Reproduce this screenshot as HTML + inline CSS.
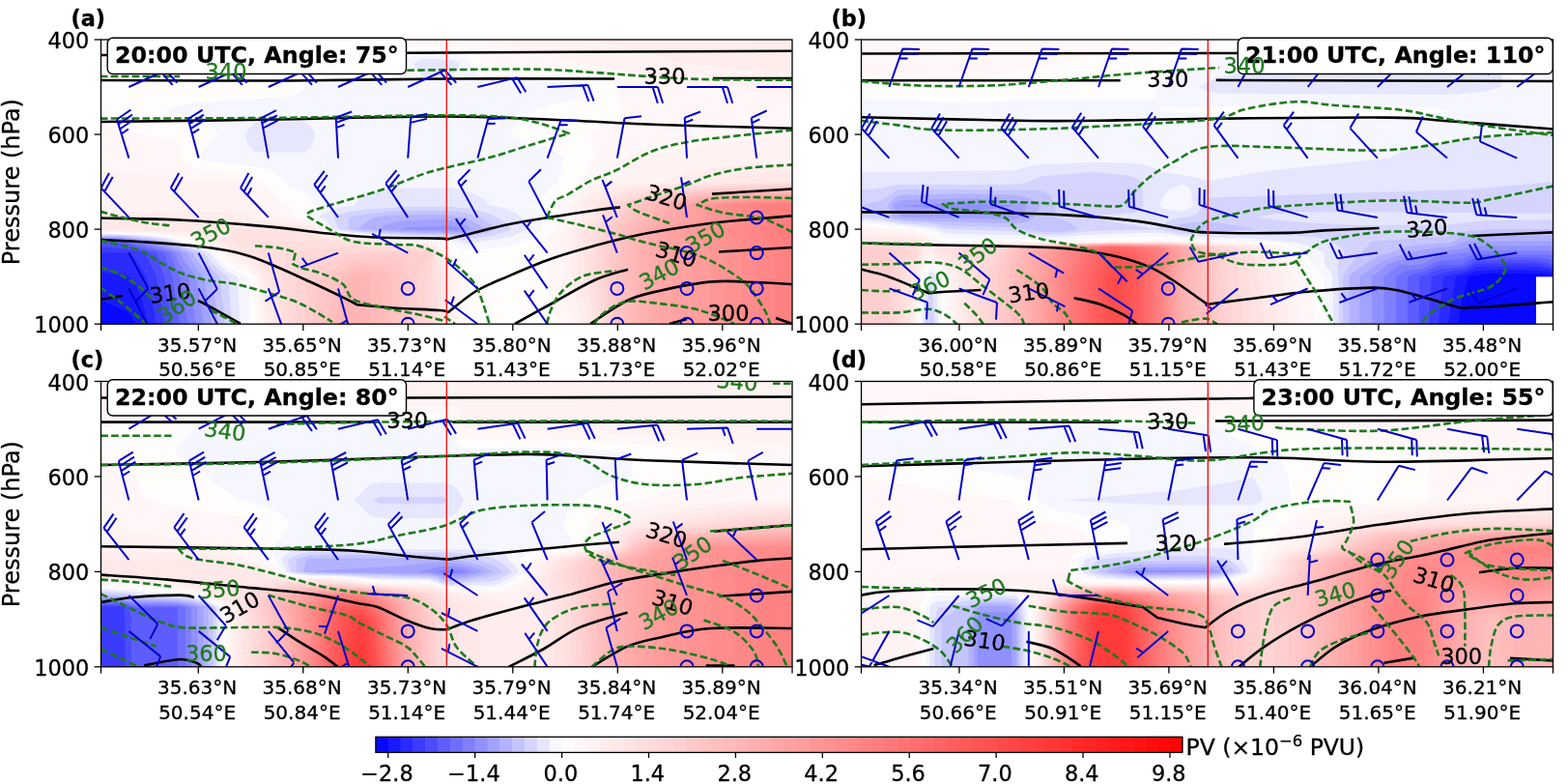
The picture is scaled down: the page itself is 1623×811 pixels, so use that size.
<!DOCTYPE html>
<html><head><meta charset="utf-8"><title>PV cross sections</title>
<style>
html,body{margin:0;padding:0;background:#fff;}
body{width:1623px;height:811px;overflow:hidden;}
svg{display:block;}
svg text{font-family:"DejaVu Sans","Liberation Sans",sans-serif;fill:#000;stroke:#000;stroke-width:.3px;}
</style></head><body>
<svg width="1623" height="811" viewBox="0 0 1623 811">
<rect width="1623" height="811" fill="#fff"/>
<defs>
<clipPath id="clipa"><rect x="104.5" y="41.0" width="715.5" height="294.2"/></clipPath>
<clipPath id="clipb"><rect x="891.5" y="41.0" width="716.0" height="294.2"/></clipPath>
<clipPath id="clipc"><rect x="104.5" y="394.5" width="715.5" height="295.29999999999995"/></clipPath>
<clipPath id="clipd"><rect x="891.5" y="394.5" width="716.0" height="295.29999999999995"/></clipPath>
</defs>
<g id="panel-a">
<g clip-path="url(#clipa)">
<rect x="104.5" y="41.0" width="715.5" height="294.2" fill="#fffcfc"/>
<g fill-rule="evenodd" stroke="none">
<path fill="#fff7f7" d="M104.5 41l715.5 0 0 294.2 -242.5 0 -10.5-49 0-24.6 -7.8-12.2 7.8-5 6-7.3 1.3-3.4 5.4-8.8 -3.7-12.3 12.7-13.2 7.3-8.4 4.4-2.9 2.8-5.6 7.2-11.5 6.3-7.4 -6.3-24.1 -0.4-0.4 22.1-12.5 17.9-12.1 -3.5-2.1 -7.2-12.4 -1.8-10 -5.4-3.4 -7.2-3.6 -7.3-2.9 -14.4-4.1 -7.2-0.9 -72.3-6.2 -21.7-3.1 -7.2-7.8 -7.3-5.1 -7.2-2.8 -7.2-1.7 -7.2-0.7 -21.7-0.4 -7.2 0.2 -14.5 2.1 -7.2 2.8 -7.3 6.8 -3 6.3 -4.2 5.4 -7.2 0.7 -43.4 0 -50.6 3.7 -195.1 6.5zM104.5 139.1l0-8.1 72.3 13 7.2 4.5 4.6 15.1 2.6 3 7.3 5.5 7.2 3.3 7.2 1.6 36.1 2.1 7.3 1.9 7.2 2.6 8.7 4.5 5.8 6.9 7.2 7 7.2 5.7 7.5 4.9 6.1 12.3 15.3 3.1 7.2 3 7.5 6.1 7 3.2 28.9 4.1 50.6 4.2 36.3 0.8 8.6 12.2 12.9 16.9 4.3 7.7 0.2 49 -219.8 0 -2.4-49 -6.3-5.4 -7.3-2.2 -7.2-3 -7.2-5.3 -7.4-8.7 -7.1-4.6 -14.4-5.3 -21.7-6.4 -14.5-2.2 -43.3-2.5 -21.7-0.2z"/>
<path fill="#fff2f2" d="M496.6 41l323.4 0 0 61.3 -36.1-6.9 -21.7-5.5 -79.5-7.2 -28.9-4.3 -14.5-5.6 -7.2-2.2 -14.5-2.9 -17.6-2.2 -98-24zM653.1 163.6l0.7-0.4 28.9-4.4 21.7-5 115.6-14.7 0 196.1 -227.5 0 -3.8-14.4 -7.7-34.6 0-24.6 -2.6-12.2 3.1-6.4 1.4-5.9 9.9-12.2 -0.7-12.3 3.9-6.9 7.2-8 7.2-4.6 7.2-2.3 19.4-2.7 2.3-3.1 7.2-12.8zM104.5 188.1l0-12.2 72.3 7.2 14.4 3 57.9 2 7.2 11.6 7.2 9.6 3.2 3.3 11.3 5.8 9.5 6.5 12.1 1.7 21.7 3.9 7.2 3.8 3.5 2.8 3.8 2.4 7.2 2.6 79.5 8.1 21.7 0.4 7.2 1.1 7.2 7.5 7.3 12.7 7.2 11.2 1.6 3.1 0.6 49 -205.3 0 -4-49 -2.5-4.3 -7.2-5.5 -7.3-2.3 -7.2-2.9 -7.2-5.9 -3.1-3.7 -4.1-3.9 -7.3-3.8 -21.6-7.5 -14.5-3.1 -28.9-2.6 -50.6-1.1z"/>
<path fill="#ffeded" d="M601.3 41l218.7 0 0 34.3 -118.4-9.8 -4.5-1.5 -14.4-6.2 -14.5-4.7 -21.7-5.1zM686.5 188.1l10.6-4.9 14.5-4.5 21.7-4.3 28.9-3.3 57.8-2.6 0 166.7 -217.3 0 -6.7-26.4 -4.6-22.6 0-49.1 4.6-6 6.4-6.2 -2.2-12.3 3-3.9 7.2-6.9 7.2-4 7.3-2.5 14.4-3.2 28.9-3.1zM104.5 224.9l0-6.2 144.5 0 7.3 2.9 7.2 3.5 14.5 2.7 43.3 5.2 14.5 9 7.2 1.9 72.3 7.4 28.9 0.8 7.2 2.3 5.7 7.2 1.5 9 8.7 15.6 1.4 49 -193.7 0 -4.3-29.3 -1.7-19.7 -5.5-9.4 -7.2-4.8 -14.5-5.3 -5.8-5.1 -1.4-1.7 -7.2-6.2 -7.3-2.9 -4.6-1.4 -9.8-4.4 -7.2-1.7 -21.7-2.8 -72.3-1.7z"/>
<path fill="#ffe8e8" d="M735.5 188.1l19.5-4.7 7.2-1.1 57.8-4 0 156.9 -211.4 0 -5.4-27.9 -4.9-21.1 0-49.1 4.9-5.3 8.1-6.9 -2.9-12.3 2-2.1 7.2-5.8 7.3-3.7 7.2-2.6 14.4-3.7 21.7-3.1zM104.5 237.1l0-8.1 144.5 0 21.7 2.9 43.4 2.6 7.2 1 2.7 1.6 4.5 4.5 7.3 2.8 7.2 1.4 72.3 7.1 28.9 0.6 7.2 3.5 3.6 4.6 3.6 20.8 2.1 3.8 1.9 49 -182.6 0 -6.8-49 -9.7-14.5 -7.2-4.1 -14.5-5.3 -7.2-8.6 -7.9-4.3 -6.6-4.4 -7.2-2.4 -7.2-1.5 -28.9-2.3 -72.3-0.8z"/>
<path fill="#ffe3e3" d="M616.6 212.6l8.3-5.8 7.2-3.5 14.4-5 14.5-3.1 28.9-3.3 130.1-3.8 0 147.1 -205.7 0 -3.9-23 -5.3-26 0-49.1 5.3-4.8 6.5-7.4zM238.3 249.4l3.5-12.3 72.3 0 7.2 3.1 7.2 5.3 7.3 1.4 29.2 2.5 14.1 2.4 43.4 3 21.7 0.2 7.2 4.6 1.6 2 2.7 24.6 1.4 49 -172 0 -6-49 -1.1-2.3 -7.3-9.6 -7.2-7.7 -11.5-5z"/>
<path fill="#ffdede" d="M624.8 212.6l7.3-4.4 14.4-6.3 14.5-3.9 21.7-3.4 79.5-4.5 57.8-0.8 0 145.9 -200.5 0 -1.9-13.2 -6-35.8 0-49.1 10.4-12.2zM264 261.6l6.7-12.2 79.5 0.1 7.3 2 14.4 2.2 50.6 2.6 21.7 0.2 6.7 5.1 1.4 73.6 -159.9 0 -6.1-49 -1.1-4 -7.2-11.7z"/>
<path fill="#ffd9d9" d="M632.9 212.6l13.6-7.1 7.3-2.6 14.4-3.7 21.7-3.3 72.3-4.5 57.8-1 0 144.8 -196.1 0 -6.9-49 0-49.1 10-12.2zM295 261.6l19.1-3.3 36.1-3.1 94 2.8 4.8 3.6 -2.1 24.6 0.3 49 -147.4 0 -6.1-49z"/>
<path fill="#ffd4d4" d="M640.3 212.6l6.2-3.5 7.3-3 14.4-4.4 14.5-2.8 50.6-4.9 86.7-2.4 0 143.6 -192 0 -3.1-28.3 -2.9-20.7 0-49.1 10.1-12.4zM344.6 261.6l12.9-1.4 43.3-1.3 43.4 0.5 2.9 2.2 -2.9 19.3 -3.7 5.3 0 49 -133.3 0 -3.2-49 2.9-5.2 7.2-8 7.2-4.6 7.2-2.9 7.3-2z"/>
<path fill="#ffcfcf" d="M646.8 212.6l7-3.4 7.2-2.7 14.5-4 14.4-2.7 50.6-4.7 79.5-2.3 0 142.4 -188 0 -5-49 0-49.1 10.3-12.2 2-3zM381.7 261.6l19.1-0.9 43.4 0.2 0.9 0.7 -0.9 6.5 -7.2 4.7 -5.4 13.4 0 49 -117 0 3.4-49 3.3-3.4 7.2-5.5 7.3-3.8 14.4-5.9 7.3-2.3 14.4-2.6z"/>
<path fill="#ffc9c9" d="M653.3 212.6l7.7-3.3 14.5-4.5 14.4-3 43.4-4.8 86.7-3.1 0 141.3 -184 0 -4-49 0.1-49.2 7.2-8.3 3.9-3.8zM332 286.2l3.8-2.7 7.2-4.2 7.2-4.8 7.3-3.8 7.2-2.5 7.2-1.5 28.9-0.9 7.2 1.6 7.3 3.4 7.2 14.2 0 50.2 -100.5 0 6.5-38.3z"/>
<path fill="#ffc4c4" d="M659.9 212.6l8.3-3.2 14.5-4.2 36.1-5.3 65.1-4.2 36.1-0.6 0 140.1 -179.8 0 -2.9-49 0-49.1 12.2-12.2zM344.7 286.2l5.5-4.7 7.3-5.3 7.2-3.5 7.2-2.1 21.7 1.7 7.2 1.8 7.2 4.7 5.8 7.4 0 49 -84.4 0 6.4-26.5 7.2-17.4z"/>
<path fill="#ffbfbf" d="M666.4 212.6l9.1-3.2 14.4-3.6 43.4-5.9 86.7-3.6 0 138.9 -174.5 0 -2.3-49 0-49.1 12.6-12.2zM352.2 286.2l5.3-4.6 7.2-4.4 7.2-2.6 14.5 2.2 7.2 1.8 7.2 3.8 4.1 3.8 0 49 -68.1 0 13.4-41.6z"/>
<path fill="#ffbaba" d="M672.9 212.6l9.8-3.1 28.9-5.4 28.9-3.4 79.5-3.3 0 137.8 -169 0 -1.5-49 0-49.1 12.7-12.2 6-6.4zM358.5 286.2l6.2-4.5 7.2-3.2 14.5 3.6 7.2 2.8 1.9 1.3 0 49 -51.3 0 6-18.7z"/>
<path fill="#ffb5b5" d="M679.5 212.6l10.4-2.9 36.1-6 57.9-4.3 36.1-0.8 0 136.6 -163.5 0 -0.7-98.1 5.2-5.1 9-7.1 5.5-6.5zM364.8 286.2l7.1-3.7 11.6 3.7 0 49 -31.9 0 5.9-19.8z"/>
<path fill="#ffb0b0" d="M686.4 212.6l25.2-5.2 28.9-3.8 43.4-3 36.1-0.8 0 135.4 -157.4 0 -0.4-98.1 15.8-12.2z"/>
<path fill="#ffabab" d="M694.3 212.6l39-6.8 50.6-4 36.1-0.9 0 134.3 -148.4 0 0-85.8 -1.6-12.3 12.7-9.7 4.1-2.5 3.1-4.6z"/>
<path fill="#ffa6a6" d="M702.7 212.6l30.6-5.4 50.6-4.2 36.1-0.9 0 133.1 -138.8 0 0-85.8 -3.2-12.3 4.7-3.6 7.2-4.2 8.6-4.4z"/>
<path fill="#ffa1a1" d="M711 212.6l22.3-3.9 50.6-4.5 36.1-0.9 0 131.9 -124 0 0-73.6 -1.7-12.2 -4.4-6.5 -2.6-5.8 17.1-8.2 6.6-4z"/>
<path fill="#ff9c9c" d="M719.3 212.6l21.2-3.3 43.4-3.8 36.1-1.1 0 130.8 -104 0 0-73.6 -5-12.2 -8.3-12.3 8.9-4.4 7.2-4.4 4.7-3.4z"/>
<path fill="#ff9696" d="M727.7 212.6l56.2-5.9 36.1-1.1 0 129.6 -84.3 0 0-73.6 -16.4-24.5 6.7-4.1 10.5-8.1 -3.2-3z"/>
<path fill="#ff9191" d="M736.7 212.6l47.2-4.7 36.1-1.1 0 128.4 -67.7 0 0-73.6 -16.3-24.5 16.8-12.2 -5.1-3 -7.2-5.2z"/>
<path fill="#ff8c8c" d="M748.2 212.6l35.7-3.5 36.1-1.2 0 127.3 -51.3 0 0-73.6 -16.4-24.5 17.1-12.3 -7.2-3.4 -7.2-4.1z"/>
<path fill="#ff8787" d="M760.5 212.6l23.4-2.3 36.1-1.2 0 126.1 -34.9 0 0-73.6 -16.4-24.5 17.7-12.2 -9.8-3.8 -7.2-3.4z"/>
<path fill="#ff8282" d="M772.8 212.6l47.2-2.3 0 124.9 -17.5 0 0-73.6 -17.4-24.5 18.1-12.2 -12.1-4.7 -7.2-2.2z"/>
<path fill="#ff7d7d" d="M786.4 212.6l33.6-1.2 0 13.5 -7.2-4.3 -7.3-3zM802.5 237.1l17.5-12.2 0 36.7z"/>
<path fill="#f6f6ff" d="M415 65.5l7.5-6.3 7.2-2.7 7.3-2 7.2-0.5 21.7 0.7 7.2 1.3 7.2 3.5 7.7 6 6.8 13 7.2 3.5 94 3 7.2 1.2 9.3 3.8 -2.1 3 -7.2 7.1 -7.2 2.8 -14.5 2.5 -14.5 3.9 -7.2 2.7 -14.4 7.5 -7.3 5.6 -7.2 8.2 -3.6 5.8 3.6 2.3 7.2 3.6 7.3 2.6 7.2 1.5 7.2 0.7 7.2 2.7 7.3 3.7 7.2 5.1 2.5 2.3 -2.5 7.4 -4.2 17.1 -25.3 24.5 7.8 8.6 2.6 3.7 -0.3 12.2 -2.3 1.9 -14.4 7.8 -6.2 2.6 -1.1 1 -7.2 2.8 -7.2 1.7 -21.7 2.5 -21.7 1.2 -7.2-2.3 -5.1-6.9 -9.4-1.7 -36.1-0.6 -57.8-5 -14.5-2 -7.2-1.6 -3-1.4 -4.2-5.3 -7.3-4 -10.5-2.9 3.3-7.1 5.4-5.2 -5.4-7.4 -7.2-6 -7.2-3.7 -7.3-2.8 -5.2-4.6 -2-2.7 -7.2-6.1 -7.2-3.4 -7.3-2.2 -14.4-2.7 -43.4-4.4 -7.2-3 7.2-10.8 7.2-6.9 4.9-6.8 -4.9-8.6 -7.2-5.6 -7.2-2.8 -37.7-7.5 23.2-6.3 7.3-1.6 101.1-6.7 7.3-3.1 7.2-4.6 2.6-2.3 26.3-5.1 7.2-1 50.6-0.3 7.2-3.8zM104.5 249.4l0-8.2 43.4 1.4 21.6 2 7.3 1 7.2 1.7 21.7 6.9 14.4 6 2.3 1.4 5 6.3 7.2 7.4 7.2 4.7 7.2 3.1 7.3 2 1.2 1.1 1 49 -154 0z"/>
<path fill="#e6e6ff" d="M428 65.5l9-3.9 7.2-0.9 21.7 1.1 7.2 1.9 2.9 1.8 -2.9 8 -7.2 4.7 -21.7 1.7 -7.2-1.4 -7.3-8.6zM253.6 139.1l2.7-4.9 7.2-7.2 7.2-0.9 43.4-0.5 7.2 4.9 4.9 8.6 -4.9 13.9 -7.2 4.5 -43.4 0 -7.2-0.7 -7.2-7.9zM366.7 212.6l5.2-6.9 7.2-4.9 7.3-2.1 14.4-2.5 14.5-1.6 50.6-0.3 14.4 2.6 7.2 2.4 7.3 3.1 7.2 4.9 4.7 5.3 9.8 1.7 7.2 1.9 7.2 2.7 7.2 4.4 1.7 1.6 5.6 9.8 0.9 2.4 -8.2 4.2 -7.2 2.6 -14.4 3.3 -36.2 5.2 -4.1-3 -10.3-2.3 -7.3-1 -36.1-0.6 -57.8-4.8 -14.5-2.1 -5.7-1.5 -1.5-2.7 -7.2-7.6 -5.5-1.9 5.5-4.5 7.2-3.6 7.2-1.9zM104.5 249.4l0-7.4 36.1 1.1 28.9 2.9 7.3 1.3 7.2 2.1 21.7 7.4 11.3 4.8 10.4 12.4 7.2 6.3 7.2 4.1 4 1.8 2.5 49 -143.8 0z"/>
<path fill="#d4d4ff" d="M345 224.9l5.2-2.6 7.3-2.5 21.6-3.4 43.4-2.7 43.4 0.1 21.6 2.5 7.3 1.3 7.2 1.8 7.2 2.7 7.3 4 7.2 4.7 6.3 6.3 -6.3 2.5 -14.5 4.1 -14.4 2.6 -14.5 1.6 -14.4-2.6 -7.3-0.9 -36.1-0.5 -50.6-3.8 -21.1-3zM104.5 249.4l0-6.5 21.7 0.2 28.9 2.4 14.4 2 8.5 1.9 27.7 10 5.3 2.2 9.1 11.1 7.3 7.4 8.7 6.1 4 49 -135.6 0z"/>
<path fill="#c4c4ff" d="M361 224.9l18.1-3.6 21.7-2.6 57.8-1 7.3 0.5 21.6 3.5 10.5 3.2 4 2.4 7.2 5.4 5.2 4.4 -12.4 4.1 -14.5 2.8 -7.2 1 -21.7-2.2 -36.1-0.5 -50.6-3.6 -11.5-1.6zM104.5 249.4l0-5.7 21.7 0.3 28.9 2.7 16.2 2.7 33.7 12.2 7.9 10.5 7.2 7.8 7.3 6.5 5.4 48.8 -128.3 0z"/>
<path fill="#b2b2ff" d="M386.7 224.9l14.1-2.1 57.8-1 19.4 3.1 9.5 3.1 7.3 3.9 7.2 5.2 -14.5 3.8 -7.2 1.2 -65-1.8 -44.4-3.2 1-1.6 7.2-5.6zM104.5 249.4l0-4.9 21.7 0.3 28.9 3.1 9.2 1.5 12.5 3.8 22.2 8.4 6.7 9.9 7.2 8.6 6.1 6.1 7.2 49 -121.7 0z"/>
<path fill="#a2a2ff" d="M392.2 237.1l8.6-5.3 7.2-2.1 7.3-1.2 43.3-1.8 14.5 2.9 7.2 2.6 9.5 4.9 -9.5 2.1 -7.2 0.7 -57.8-1.1zM104.5 249.4l0-4.1 21.7 0.4 30.9 3.7 19.7 6 15.7 6.2 6 9.1 7.2 9.6 5.3 5.9 8 49 -114.5 0z"/>
<path fill="#9090ff" d="M414.4 237.1l8.1-1.9 36.1-1.3 7.3 0.3 7.2 1.3 3.6 1.6 -3.6 0.6 -50.6-0.2zM104.5 249.4l0-3.3 21.7 0.4 23.8 2.9 26.8 8.1 9.7 4.1 4.7 9 7.3 10 4.5 5.6 8 49 -106.5 0z"/>
<path fill="#8080ff" d="M104.5 249.4l0-2.5 21.7 0.5 16.7 2 12.2 4 14.4 3.9 7.3 2.4 4.4 1.9 2.8 7.9 7.2 12.2 3.5 4.5 8.3 49 -98.5 0z"/>
<path fill="#6e6eff" d="M104.5 249.4l0-1.6 21.7 0.5 9.5 1.1 12.2 4.3 21.6 5.7 6.8 2.2 7.7 21.2 2.1 3.4 8.6 49 -90.2 0z"/>
<path fill="#5d5dff" d="M104.5 249.4l0-0.8 24.1 0.8 4.8 2.2 14.5 4.7 22 5.3 8.1 24.6 8.1 49 -81.6 0z"/>
<path fill="#4c4cff" d="M104.5 261.6l0-12.1 21.7 3 7.2 2.5 21.7 5.4 6.7 1.2 8.2 24.6 8 49 -73.5 0z"/>
<path fill="#3b3bff" d="M104.5 261.6l0-6 21.7 1.5 22.9 4.5 6 10.2 6.8 14.4 8.1 49 -65.5 0z"/>
<path fill="#2a2aff" d="M104.5 261.6l28.9 0 7.2 7 7.3 11.1 3.5 6.5 3.7 14.5 6.9 34.5 -57.5 0z"/>
<path fill="#1919ff" d="M104.5 286.2l0-4.9 28.9 4.2 7.2 9.6 7.3 17.7 5.3 22.4 -48.7 0z"/>
<path fill="#0808ff" d="M104.5 335.2l0-24.3 21.7 9.1 7.2 3.5 7.6 11.7z"/>
</g>
<path d="M104.0 57.0C163.3 56.6 340.7 55.2 460.0 54.5C579.3 53.8 760.0 53.1 820.0 52.8M104.0 83.0C136.7 83.1 240.7 83.8 300.0 83.5C359.3 83.2 404.0 81.8 460.0 81.5C516.0 81.2 606.7 81.5 636.0 81.5M738.0 81.0C751.7 81.0 806.3 81.0 820.0 81.0M104.0 126.0C132.8 125.6 218.5 124.6 277.0 123.7C335.5 122.8 406.0 120.5 455.0 120.5C504.0 120.5 533.2 122.3 571.0 123.7C608.8 125.1 640.5 127.5 682.0 129.0C723.5 130.5 797.0 132.1 820.0 132.7M104.0 225.5C118.2 225.9 160.2 226.2 189.0 227.7C217.8 229.2 251.2 232.0 277.0 234.4C302.8 236.8 325.5 240.2 344.0 242.0C362.5 243.8 369.5 244.7 388.0 245.5C406.5 246.3 442.7 246.2 455.0 246.6C467.3 247.0 460.8 247.5 462.0 247.7C465.3 246.9 471.2 245.6 482.0 243.0C492.8 240.4 512.2 235.1 527.0 232.0C541.8 228.9 556.3 226.8 571.0 224.4C585.7 222.0 603.2 219.4 615.0 217.7C626.8 216.0 637.5 214.9 642.0 214.4M737.0 200.6C750.8 199.8 806.2 196.3 820.0 195.5M104.0 248.0C110.7 248.3 128.0 248.9 144.0 250.0C160.0 251.1 183.3 252.5 200.0 254.3C216.7 256.1 231.2 258.1 244.0 261.0C256.8 263.9 264.0 266.8 277.0 272.0C290.0 277.2 309.0 286.1 322.0 292.0C335.0 297.9 347.0 303.7 355.0 307.6C363.0 311.5 367.5 314.0 370.0 315.3C376.7 315.9 395.8 317.8 410.0 318.7C424.2 319.6 446.0 320.3 455.0 321.0C464.0 321.7 462.5 322.7 464.0 323.0C468.8 319.3 482.5 307.3 493.0 301.0C503.5 294.7 514.0 291.0 527.0 285.4C540.0 279.8 556.3 272.8 571.0 267.6C585.7 262.4 600.2 258.4 615.0 254.3C629.8 250.2 645.2 246.3 660.0 243.2C674.8 240.1 689.3 237.8 704.0 235.5C718.7 233.2 728.7 231.5 748.0 229.5C767.3 227.5 808.0 224.3 820.0 223.3M104.0 310.0C107.8 309.3 123.2 306.7 127.0 306.0M205.0 311.0C206.7 311.8 207.7 312.0 215.0 316.0C222.3 320.0 243.3 331.8 249.0 335.0M533.0 335.0C539.3 331.5 557.3 321.5 571.0 314.0C584.7 306.5 601.8 295.9 615.0 290.0C628.2 284.1 644.2 280.6 650.0 278.7M744.0 260.5C756.7 259.8 807.3 256.8 820.0 256.0M611.0 335.0C617.3 331.0 637.2 316.7 649.0 311.0C660.8 305.3 667.3 304.3 682.0 301.0C696.7 297.7 720.3 292.9 737.0 291.4C753.7 289.9 768.2 291.6 782.0 292.0C795.8 292.4 813.7 293.7 820.0 294.0M693.0 335.0C696.0 334.2 708.0 330.8 711.0 330.0M803.0 329.0C805.8 330.0 817.2 334.0 820.0 335.0" fill="none" stroke="#000" stroke-width="2.6" stroke-linejoin="round" stroke-linecap="butt"/>
<path d="M104.0 79.0C117.7 79.0 172.3 79.0 186.0 79.0M258.0 75.0C273.3 74.7 323.2 73.4 350.0 73.0C376.8 72.6 385.8 72.9 419.0 72.7C452.2 72.5 516.3 71.2 549.0 71.6C581.7 72.0 596.5 73.9 615.0 75.0C633.5 76.1 641.5 77.1 660.0 78.3C678.5 79.5 699.3 81.3 726.0 82.0C752.7 82.7 804.3 82.6 820.0 82.7M104.0 122.6C132.8 122.5 218.5 122.5 277.0 122.0C335.5 121.5 413.4 119.4 455.0 119.3C496.6 119.2 509.0 120.0 526.5 121.5C544.0 123.0 549.6 125.2 560.0 128.0C570.4 130.8 583.9 136.3 588.7 138.0C582.1 140.0 563.1 145.7 549.0 150.0C534.9 154.3 521.3 159.1 504.0 163.7C486.7 168.3 463.0 172.4 445.0 177.8C427.0 183.2 412.5 190.5 396.0 196.0C379.5 201.5 358.3 207.2 346.0 211.0C333.7 214.8 326.8 216.4 322.0 218.5C317.2 220.6 318.2 222.5 317.4 223.3C321.8 225.9 335.9 234.4 344.0 238.8C352.1 243.2 354.9 247.6 366.0 250.0C377.1 252.4 399.3 252.3 410.5 253.0C421.7 253.7 424.8 252.1 433.0 254.3C441.2 256.5 451.8 261.2 460.0 266.0C468.2 270.8 476.5 277.9 482.0 283.0C487.5 288.1 490.0 291.3 493.0 296.5C496.0 301.7 497.7 307.6 500.0 314.0C502.3 320.4 505.5 331.5 506.6 335.0M104.0 218.8C108.8 220.1 124.4 224.6 133.0 226.6C141.6 228.6 148.4 229.9 155.5 231.0C162.6 232.1 172.1 232.9 175.4 233.3M264.0 254.3C268.1 254.7 281.6 255.4 288.6 256.5C295.6 257.6 303.1 260.2 306.0 261.0C305.5 263.0 303.5 271.0 303.0 273.0C304.7 273.8 308.0 275.9 313.0 277.6C318.0 279.3 326.0 280.3 333.0 283.0C340.0 285.7 349.5 289.5 355.0 294.0C360.5 298.5 358.6 305.7 366.0 309.8C373.4 313.9 388.4 316.1 399.5 318.7C410.6 321.3 422.6 323.1 432.7 325.3C442.8 327.5 455.4 330.9 460.0 332.0M104.0 248.8C110.7 250.5 133.6 254.9 144.0 258.8C154.4 262.7 159.1 268.0 166.5 272.0C173.9 276.0 180.6 280.0 188.7 283.0C196.8 286.0 205.8 288.2 215.0 290.0C224.2 291.8 233.6 291.8 244.0 294.0C254.4 296.2 266.4 299.7 277.5 303.0C288.6 306.3 299.6 309.0 310.7 314.0C321.8 319.0 338.4 329.8 344.0 333.0M104.0 276.5C107.0 277.6 115.3 279.7 122.0 283.0C128.7 286.3 138.0 292.0 144.0 296.5C150.0 301.0 155.7 307.8 158.0 310.0M218.0 321.0C221.3 322.7 233.7 328.7 238.0 331.0C242.3 333.3 243.0 334.3 244.0 335.0M104.0 297.5C107.8 300.2 118.8 307.8 126.6 314.0C134.4 320.2 146.9 331.5 151.0 335.0M566.0 225.0C567.5 222.1 571.3 211.7 575.0 207.7C578.7 203.7 581.8 204.6 588.0 201.0C594.2 197.4 604.3 190.5 612.5 186.4C620.7 182.3 626.8 181.4 637.0 176.5C647.2 171.6 661.7 161.7 674.0 156.8C686.3 151.9 696.7 149.7 711.0 147.0C725.3 144.3 741.8 142.9 760.0 140.8C778.2 138.7 810.0 135.6 820.0 134.6M566.0 225.0C570.5 226.0 581.1 228.2 593.0 231.0C604.9 233.8 626.3 239.0 637.5 242.0C648.7 245.0 652.6 246.8 660.0 248.8C667.4 250.9 674.7 252.6 682.0 254.3C689.3 256.0 696.7 257.0 704.0 258.8C711.3 260.6 718.7 262.4 726.0 265.4C733.3 268.3 740.6 272.1 748.0 276.5C755.4 280.9 764.9 287.2 770.5 292.0C776.1 296.8 777.9 300.2 781.6 305.4C785.3 310.6 790.1 318.1 792.7 323.0C795.3 327.9 796.3 333.0 797.0 335.0M693.0 231.0C687.5 229.0 667.2 222.0 660.0 218.8C652.8 215.6 651.7 213.1 650.0 212.0C654.0 210.6 663.8 207.1 674.0 203.7C684.2 200.2 700.7 195.0 711.0 191.3C721.3 187.6 725.5 184.4 735.8 181.5C746.1 178.6 758.7 175.8 772.7 174.0C786.7 172.2 812.1 171.0 820.0 170.4M820.0 205.0C811.7 204.8 783.8 203.9 770.0 204.0C756.2 204.1 745.1 204.2 737.0 205.5C728.9 206.8 724.1 210.9 721.5 212.0C725.9 213.3 737.4 217.8 748.0 220.0C758.6 222.2 775.7 223.0 785.0 225.0C794.3 227.0 798.2 229.5 804.0 232.0C809.8 234.5 817.3 238.7 820.0 240.0M566.0 335.0C566.8 332.3 568.3 324.4 571.0 318.7C573.7 313.0 576.5 306.6 582.0 301.0C587.5 295.4 594.8 288.9 604.0 285.4C613.2 281.9 631.9 280.9 637.5 280.0M615.0 335.0C616.8 333.0 620.4 326.8 626.0 323.0C631.6 319.2 639.2 313.5 648.5 312.0C657.8 310.5 670.9 312.9 682.0 314.0C693.1 315.1 705.8 316.8 715.0 318.7C724.2 320.6 729.5 322.6 737.0 325.3C744.5 328.0 756.2 333.4 760.0 335.0M460.0 327.5C461.8 328.8 469.2 333.8 471.0 335.0" fill="none" stroke="#1c7a1c" stroke-width="2.6" stroke-dasharray="7.6 3.3" stroke-linejoin="round"/>
<path d="M133.4 90.0L171.6 72.5M171.6 72.5L183.4 85.6M166.8 74.7L178.6 87.8M205.6 90.0L243.8 72.5M243.8 72.5L255.6 85.6M239.0 74.7L250.8 87.8M277.8 90.0L316.0 72.5M316.0 72.5L327.8 85.6M311.2 74.7L323.0 87.8M350.0 90.0L388.2 72.5M388.2 72.5L400.0 85.6M383.4 74.7L395.2 87.8M422.2 90.0L460.4 72.5M460.4 72.5L472.2 85.6M455.6 74.7L467.4 87.8M494.4 90.0L535.2 80.1M535.2 80.1L544.3 95.2M530.1 81.3L539.2 96.4M566.6 90.0L608.6 88.0M608.6 88.0L614.6 104.6M603.3 88.3L609.4 104.8M638.8 90.0L680.8 90.0M680.8 90.0L686.1 106.8M675.6 90.0L680.8 106.8M711.0 90.0L753.0 90.0M753.0 90.0L758.2 106.8M747.8 90.0L753.0 106.8M783.2 90.0L825.2 90.0M825.2 90.0L830.5 106.8M820.0 90.0L825.2 106.8M133.4 163.6L121.0 123.5M121.0 123.5L135.5 113.5M122.6 128.5L137.1 118.5M124.1 133.5L138.6 123.5M125.7 138.5L132.9 133.5M205.6 163.6L194.7 123.0M194.7 123.0L209.6 113.6M196.1 128.1L210.9 118.7M197.4 133.2L212.3 123.7M198.8 138.2L206.2 133.5M277.8 163.6L270.4 122.2M270.4 122.2L286.0 114.1M271.3 127.4L286.9 119.3M272.2 132.6L287.8 124.4M350.0 163.6L347.7 121.6M347.7 121.6L364.1 115.5M348.0 126.9L364.4 120.7M348.2 132.1L356.5 129.0M422.2 163.6L425.2 121.7M425.2 121.7L442.3 117.7M424.8 126.9L441.9 122.9M494.4 163.6L505.3 123.0M505.3 123.0L522.9 122.3M503.9 128.1L512.7 127.7M566.6 163.6L580.7 124.0M580.7 124.0L598.3 124.7M578.9 129.0L587.7 129.3M638.8 163.6L646.5 122.3M646.5 122.3L664.0 120.2M711.0 163.6L708.7 121.6M708.7 121.6L725.1 115.5M709.0 126.9L717.2 123.8M783.2 163.6L777.7 121.9M777.7 121.9L793.7 114.5M778.4 127.1L786.4 123.4M133.4 224.9L104.5 194.4M104.5 194.4L113.0 179.0M108.1 198.2L116.7 182.9M205.6 224.9L176.7 194.4M176.7 194.4L185.2 179.0M180.3 198.2L188.9 182.9M277.8 224.9L248.9 194.4M248.9 194.4L257.4 179.0M252.5 198.2L261.1 182.9M256.1 202.0L260.4 194.3M350.0 224.9L325.3 190.9M325.3 190.9L335.8 176.8M328.4 195.2L338.9 181.0M331.5 199.4L336.7 192.3M422.2 224.9L399.3 189.7M399.3 189.7L410.5 176.1M402.1 194.1L413.3 180.5M405.0 198.5L410.6 191.7M494.4 224.9L474.2 188.0M474.2 188.0L486.5 175.4M476.8 192.6L482.9 186.3M566.6 224.9L547.3 187.6M547.3 187.6L559.9 175.2M638.8 224.9L623.5 185.8M626.4 193.1L633.3 187.6M711.0 224.9L705.0 183.3M706.1 191.1L714.1 187.3M133.4 261.6L153.4 298.6M153.4 298.6L141.1 311.2M205.6 261.6L224.8 299.0M224.8 299.0L212.3 311.4M277.8 261.6L289.2 302.1M289.2 302.1L274.5 311.7M350.0 261.6L310.8 276.6M318.1 273.8L312.7 266.9M422.2 261.6L385.1 241.9M392.1 245.6L393.7 237.0M494.4 261.6L471.8 226.2M476.1 232.9L481.8 226.1M566.6 261.6L540.4 228.8M545.3 235.0L550.3 227.7M638.8 261.6L624.1 222.3M626.8 229.7L633.8 224.3M133.4 298.4L152.6 335.8M152.6 335.8L140.1 348.1M205.6 298.4L225.2 335.6M225.2 335.6L212.8 348.1M277.8 298.4L292.1 337.9M292.1 337.9L278.0 348.6M350.0 298.4L361.2 338.9M359.1 331.3L351.7 336.1M494.4 298.4L462.9 270.7M468.8 275.9L472.4 267.8M566.6 298.4L542.8 263.8M547.3 270.3L552.7 263.4M133.4 335.2L152.2 372.8M152.2 372.8L139.5 385.0M205.6 335.2L225.2 372.3M225.2 372.3L212.8 384.8M277.8 335.2L292.1 374.7M292.1 374.7L278.0 385.3M350.0 335.2L361.2 375.7M359.1 368.1L351.7 372.9M494.4 335.2L460.7 310.2M467.0 314.9L469.9 306.6M566.6 335.2L542.8 300.6M547.3 307.1L552.7 300.2" fill="none" stroke="#0000c8" stroke-width="2" stroke-linejoin="miter"/>
<circle cx="783.2" cy="224.9" r="6.5" fill="none" stroke="#0000c8" stroke-width="2"/>
<circle cx="711.0" cy="261.6" r="6.5" fill="none" stroke="#0000c8" stroke-width="2"/>
<circle cx="783.2" cy="261.6" r="6.5" fill="none" stroke="#0000c8" stroke-width="2"/>
<circle cx="422.2" cy="298.4" r="6.5" fill="none" stroke="#0000c8" stroke-width="2"/>
<circle cx="638.8" cy="298.4" r="6.5" fill="none" stroke="#0000c8" stroke-width="2"/>
<circle cx="711.0" cy="298.4" r="6.5" fill="none" stroke="#0000c8" stroke-width="2"/>
<circle cx="783.2" cy="298.4" r="6.5" fill="none" stroke="#0000c8" stroke-width="2"/>
<circle cx="422.2" cy="335.2" r="6.5" fill="none" stroke="#0000c8" stroke-width="2"/>
<circle cx="638.8" cy="335.2" r="6.5" fill="none" stroke="#0000c8" stroke-width="2"/>
<circle cx="711.0" cy="335.2" r="6.5" fill="none" stroke="#0000c8" stroke-width="2"/>
<circle cx="783.2" cy="335.2" r="6.5" fill="none" stroke="#0000c8" stroke-width="2"/>
<path d="M462.3 41.0V335.2" stroke="#f01818" stroke-width="1.4" fill="none"/>
</g>
<rect x="104.5" y="41.0" width="715.5" height="294.2" fill="none" stroke="#000" stroke-width="1.3"/>
<path d="M97.7 41.00H104.5" stroke="#000" stroke-width="1.3"/>
<text x="92.3" y="50.0" text-anchor="end" font-size="22.4">400</text>
<path d="M97.7 139.07H104.5" stroke="#000" stroke-width="1.3"/>
<text x="92.3" y="148.1" text-anchor="end" font-size="22.4">600</text>
<path d="M97.7 237.13H104.5" stroke="#000" stroke-width="1.3"/>
<text x="92.3" y="246.1" text-anchor="end" font-size="22.4">800</text>
<path d="M97.7 335.20H104.5" stroke="#000" stroke-width="1.3"/>
<text x="92.3" y="344.2" text-anchor="end" font-size="22.4">1000</text>
<path d="M104.50 335.2V342.0" stroke="#000" stroke-width="1.3"/>
<path d="M205.30 335.2V342.0" stroke="#000" stroke-width="1.3"/>
<path d="M313.80 335.2V342.0" stroke="#000" stroke-width="1.3"/>
<path d="M422.30 335.2V342.0" stroke="#000" stroke-width="1.3"/>
<path d="M530.80 335.2V342.0" stroke="#000" stroke-width="1.3"/>
<path d="M639.30 335.2V342.0" stroke="#000" stroke-width="1.3"/>
<path d="M747.80 335.2V342.0" stroke="#000" stroke-width="1.3"/>
<path d="M820.00 335.2V342.0" stroke="#000" stroke-width="1.3"/>
<text x="204.1" y="363.5" text-anchor="middle" font-size="20">35.57°N</text>
<text x="204.1" y="389.0" text-anchor="middle" font-size="20">50.56°E</text>
<text x="312.6" y="363.5" text-anchor="middle" font-size="20">35.65°N</text>
<text x="312.6" y="389.0" text-anchor="middle" font-size="20">50.85°E</text>
<text x="421.1" y="363.5" text-anchor="middle" font-size="20">35.73°N</text>
<text x="421.1" y="389.0" text-anchor="middle" font-size="20">51.14°E</text>
<text x="529.6" y="363.5" text-anchor="middle" font-size="20">35.80°N</text>
<text x="529.6" y="389.0" text-anchor="middle" font-size="20">51.43°E</text>
<text x="638.1" y="363.5" text-anchor="middle" font-size="20">35.88°N</text>
<text x="638.1" y="389.0" text-anchor="middle" font-size="20">51.73°E</text>
<text x="746.6" y="363.5" text-anchor="middle" font-size="20">35.96°N</text>
<text x="746.6" y="389.0" text-anchor="middle" font-size="20">52.02°E</text>
<text x="73.6" y="26.8" font-size="22.3" font-weight="bold">(a)</text>
<text transform="translate(19.6 188.1) rotate(-90)" text-anchor="middle" font-size="24">Pressure (hPa)</text>
<rect x="111.2" y="39.3" width="309.3" height="37.2" rx="5.5" ry="5.5" fill="#fff" stroke="#000" stroke-width="1.4"/>
<text x="118.9" y="65.3" font-size="23.8" font-weight="bold">20:00 UTC, Angle: 75°</text>
<g clip-path="url(#clipa)"><text transform="translate(688 78.5) rotate(0)" text-anchor="middle" font-size="22.5" style="fill:#000;stroke:#000" dy="8.2">330</text>
<text transform="translate(690 204) rotate(17)" text-anchor="middle" font-size="22.5" style="fill:#000;stroke:#000" dy="8.2">320</text>
<text transform="translate(176 303) rotate(-8)" text-anchor="middle" font-size="22.5" style="fill:#000;stroke:#000" dy="8.2">310</text>
<text transform="translate(700 263) rotate(17)" text-anchor="middle" font-size="22.5" style="fill:#000;stroke:#000" dy="8.2">310</text>
<text transform="translate(754 323.5) rotate(0)" text-anchor="middle" font-size="22.5" style="fill:#000;stroke:#000" dy="8.2">300</text>
<text transform="translate(234 73.8) rotate(0)" text-anchor="middle" font-size="22.5" style="fill:#1f7a1f;stroke:#1f7a1f" dy="8.2">340</text>
<text transform="translate(218 241) rotate(-27)" text-anchor="middle" font-size="22.5" style="fill:#1f7a1f;stroke:#1f7a1f" dy="8.2">350</text>
<text transform="translate(183 317) rotate(-35)" text-anchor="middle" font-size="22.5" style="fill:#1f7a1f;stroke:#1f7a1f" dy="8.2">360</text>
<text transform="translate(682 283.5) rotate(-28)" text-anchor="middle" font-size="22.5" style="fill:#1f7a1f;stroke:#1f7a1f" dy="8.2">340</text>
<text transform="translate(730 245) rotate(-30)" text-anchor="middle" font-size="22.5" style="fill:#1f7a1f;stroke:#1f7a1f" dy="8.2">350</text></g>
</g>
<g id="panel-b">
<g clip-path="url(#clipb)">
<rect x="891.5" y="41.0" width="716.0" height="294.2" fill="#fffcfc"/>
<g fill-rule="evenodd" stroke="none">
<path fill="#fff7f7" d="M891.5 41l341.8 0 -16.3 5.9 -14.5 4 -57.9 5.5 -21.7 3.4 -14.4 3.2 -7.3 2.1 -43.4 6.8 -21.7 4.8 -14.4 4.3 -14.5 5.6 -7.2 3.4 -7.2-2.8 -14.5-3.4 -28.9-3.4 -57.9-2.6zM891.5 237.1l0-3 46.8 3 11.1 1.8 7.2 1.7 7.2 2.7 7.3 3.2 5.1 2.9 2.1 0.4 224.2-1.9 21.7 1.5 79.5 2.2 14.5 1.2 7.2 1 8.1 2 6.5 5.8 7.1 14.4 7.3 10.4 8.3 48.8 -384.6 0 0.9-49 -7.9-7.2 -7.3-10.1 -3.9 5 -3.3 5.6 -2.1 6.7 -4.1 49 -58.9 0z"/>
<path fill="#fff2f2" d="M891.5 249.4l0-12.2 36.2 1.6 21.7 2.7 7.2 2.1 12.2 5.8 9.5 1.8 282-0.4 43.4 2.2 14.5 1.6 6.4 1.2 3.4 5.8 12 24.6 6.3 49 -362.1 0 -1.2-49 -4.7-5.8 -7.2-5.6 -7.3-10.4 -7.4 9.5 -3.7 12.3 -4.4 49 -56.8 0z"/>
<path fill="#ffeded" d="M891.5 249.4l0-8.2 36.2 1.1 21.7 1.8 7.2 2.5 5.4 2.8 -1.8 6.4 1.4 5.8 -5 5.7 -3.3 6.6 -2.5 12.3 -4.6 49 -54.7 0zM965.7 255.8l5.4-3.6 7.2 0.4 50.6-0.8 202.5-1.3 65.1 3.2 17.9 2.1 13.6 30.4 6 49 -343.5 0 -3.3-49 -1.7-2.8 -7.2-7.9 -7.2-5 -6.1-8.9z"/>
<path fill="#ffe8e8" d="M891.5 249.4l0-4.1 57.9 1.5 6.5 2.6 -0.2 6.4 0.7 5.8 -6.2 12.3 -1.8 12.3 -4.3 49 -52.6 0zM968.9 255.8l2.2-1.5 28.9-1.4 28.9-0.1 180.8-2.5 79.6 4 14.2 1.5 3.5 5.8 5 12.3 3.8 12.3 6.1 49 -325.1 0 -4-35 -1.2-14 -6.1-10.3 -2-2 -5.2-3.5 -7.2-4.1 -3.2-4.7z"/>
<path fill="#ffe3e3" d="M891.5 255.8l0-6.4 57.9 0 4.2 6.4 0.8 5.8 -5 9.6 -3.3 2.7 -2.9 12.3 -1.4 49 -50.3 0zM975.2 255.8l24.8-1.9 28.9-0.1 173.6-3.3 90.2 5.3 4.3 5.8 5 12.3 7.5 61.3 -306.5 0 -5.1-49 -6.7-12.3 -5.7-4.4 -7.2-4.3 -7.5-3.6 0.3-1.2z"/>
<path fill="#ffdede" d="M891.5 255.8l0-4.9 43.4 0.7 14.5 1.1 2 3.1 1 5.8 -3 5.8 -7.7 6.5 -4.1 12.3 -0.6 49 -45.5 0zM988.3 255.8l11.7-0.9 28.9-0.2 28.9-2.4 144.7-1.5 79.3 5 5.2 5.8 5 12.3 0 12.3 5.1 49 -287.9 0 -4.5-49 -3.5-12.3 -15.7-10.5 -3.5-1.8z"/>
<path fill="#ffd9d9" d="M891.5 255.8l0-3.4 28.9 0.2 21.7 2 6.5 1.2 0.8 0.5 1 5.3 -1 2.1 -7.3 4.1 -4.9 6.1 -2.3 6 -2.9 6.3 0 49 -40.5 0zM1025.8 255.8l3.1-0.1 21.7-2.4 151.9-2.2 36.2 1.7 33.1 3 5.2 5.8 5 12.3 0 12.7 5 48.6 -271.5 0 -3.9-49 2.2-12.3 -6.6-6.3 -7.2-2.1 -6-3.9 6-4.8 21.7-0.1z"/>
<path fill="#ffd4d4" d="M891.5 255.8l0-1.9 28.9 0.3 13.8 1.6 9.2 5.8 -1.3 0.6 -7.2 6.4 -3.5 5.3 -3.7 8.6 -1.1 3.7 0.4 49 -35.5 0zM1033.7 255.8l24.1-2.4 144.7-2 36.2 2 25.1 2.4 4.9 5.8 3.9 12.3 0 12.3 2.2 27.6 2.2 21.4 -255.3 0 -3.1-49 4.5-12.3 5.8-9.2z"/>
<path fill="#ffcfcf" d="M891.5 255.8l0-0.3 27.7 0.3 1.2 0.3 9.8 5.5 -2.5 3.6 -3.5 8.7 -2.4 12.3 0.2 49 -30.5 0zM1039 255.8l112.9-4.6 65.1 1.1 39.3 3.5 5.4 5.8 3.4 12.3 0 12.3 3.6 49 -240.7 0 -2.3-49 3.7-12.3 6.7-13.8z"/>
<path fill="#ffc9c9" d="M1044.2 255.8l107.7-4.4 65.1 1.3 21.7 1.7 11.1 1.4 5.1 5.8 3.4 12.3 0 12.3 3.4 49 -227.5 0 -1.3-49 3.2-13.4 3.9-11.2z"/>
<path fill="#ffc4c4" d="M1049.4 255.8l102.5-4.2 65.1 1.5 27.6 2.7 1.3 2.1 3.2 3.7 2.4 12.3 -0.1 12.3 3.5 49 -214.6 0 -0.9-49 2.5-12.3 2.9-12.3z"/>
<path fill="#ffbfbf" d="M1054.7 255.8l97.2-4 57.8 1.2 31.1 2.8 3.7 5.8 0.7 12.3 -0.8 12.3 3.7 49 -201.6 0 -1.5-49 4.6-24.6z"/>
<path fill="#ffbaba" d="M1060.2 255.8l91.7-3.8 57.8 1.3 27.2 2.5 4 5.8 -1.2 12.3 -2.4 12.3 4.5 49 -189.1 0 -2.7-49 4.5-24.6z"/>
<path fill="#ffb5b5" d="M1065.6 255.8l86.3-3.5 50.6 0.9 30.6 2.6 4.3 5.8 -6 21.3 -1.3 3.3 5.4 49 -176.7 0 -3.8-49 4.5-24.6z"/>
<path fill="#ffb0b0" d="M1071 255.8l80.9-3.3 50.6 1 26.7 2.3 4.6 5.8 -2.4 7 -2.8 5.3 -4.4 10.1 -0.4 2.2 0.4 8.3 5 40.7 -164.2 0 -5-49 4.5-24.6z"/>
<path fill="#ffabab" d="M1076.5 255.8l75.4-3.1 50.6 1.1 22.9 2 4.9 5.8 -6.7 12.3 -2.4 12.3 2.4 49 -154.5 0 -4-49.4 4.4-24.2z"/>
<path fill="#ffa6a6" d="M1081.9 255.8l70-2.9 50.6 1.2 19.2 1.7 5.1 5.8 -2.6 4.7 -3.4 7.6 -2.2 12.3 2.2 49 -147.6 0 -3.4-49 2.7-12.3 2-12.3z"/>
<path fill="#ffa1a1" d="M1087.3 255.8l64.6-2.7 50.6 1.3 15.6 1.4 5.2 5.8 -5.3 12.3 -1.9 12.3 1.9 49 -140.7 0 -2.7-49 2.9-12.3 2-12.3z"/>
<path fill="#ff9c9c" d="M1092.8 255.8l59.1-2.4 50.6 1.4 12 1 5.5 5.8 -3 7.3 -1.7 5 -1.5 12.3 1.5 49 -133.9 0 -1.9-49.6 3-11.7 2-12.3z"/>
<path fill="#ff9696" d="M1098.2 255.8l53.7-2.2 50.6 1.5 8.4 0.7 5.8 5.8 -3.9 12.3 -1.3 12.3 1.3 49 -127.2 0 -1.4-49 3.3-12.3 2-12.3z"/>
<path fill="#ff9191" d="M1103.5 255.8l48.4-2 55.3 2 6.1 5.8 -3.1 12.3 -1 12.3 1 49 -120.5 0 -1-49 3.8-12.3 2-12.3z"/>
<path fill="#ff8c8c" d="M1108.8 255.8l43.1-1.8 51.7 1.8 6.4 5.8 -2.3 12.3 -0.8 12.3 0.8 49 -113.9 0 -1-49 4.2-12.3 2.5-12.3z"/>
<path fill="#ff8787" d="M1114 255.8l37.9-1.5 47.5 1.5 3.1 2.1 4.2 3.7 -1.6 12.3 -0.5 12.3 0.5 49 -107.2 0 -1.2-49 4.5-12.3 3.2-12.3z"/>
<path fill="#ff8282" d="M1119.2 255.8l32.7-1.3 43.4 1.5 8 5.6 -1 24.6 0.2 49 -100.5 0 -1.5-49 4.9-12.3 3.8-12.3z"/>
<path fill="#ff7d7d" d="M1124.5 255.8l27.4-1.1 37.7 1.1 5.7 3.1 4.1 2.7 0.2 73.6 -93.6 0 -1.6-49 5.2-12.3 4.4-12.3z"/>
<path fill="#ff7878" d="M1129.8 255.8l22.1-0.9 32.4 0.9 10.9 5.8 1 12.3 0.4 12.3 0.1 49 -86.7 0 -1.8-49 10.6-24.6z"/>
<path fill="#ff7373" d="M1135.2 255.8l16.7-0.7 26.9 0.7 11.6 5.8 2.2 12.3 1 12.3 0 49 -79.6 0 -1.7-49 11.3-24.6z"/>
<path fill="#ff6e6e" d="M1140.7 255.8l31 0 1.9 0.4 7.2 2.9 4.8 2.5 3.3 12.3 1.5 12.3 0 49 -72.4 0 -1.5-49 12-24.6z"/>
<path fill="#ff6969" d="M1146.4 255.8l14.4 0 12.8 2.8 7.2 3 4.4 12.3 2 12.3 0 49 -65.2 0 -0.5-49 12-24.6z"/>
<path fill="#ff6363" d="M1138.5 261.6l6.1-2.8 7.3-2.6 23.1 5.4 5.8 10.2 0.7 2.1 2.5 12.3 0 49 -57.6 0 0.1-49z"/>
<path fill="#ff5e5e" d="M1143.5 261.6l8.4-3.2 14.4 3.5 7.3 5.5 3.7 6.5 3.5 12.3 0 49 -49.8 0 0.5-49z"/>
<path fill="#ff5959" d="M1149.3 261.6l2.6-0.9 4.1 0.9 3.1 1.7 7.2 4.7 6.4 5.9 0.9 1.6 3.4 10.7 -0.4 49 -40.6 0 0.5-49 8.1-16.6z"/>
<path fill="#ff5454" d="M1147.8 273.9l4.1-6.9 7.2 1.5 7.2 5.9 6.8 11.8 -2.1 49 -30 0 0.4-49z"/>
<path fill="#ff4f4f" d="M1158.2 273.9l1.1 0 8.1 12.3 -1.1 13 -5.3 36 -14.7 0 0-49 5.6-10.1z"/>
<path fill="#ff4a4a" d="M1151.1 286.2l0.8-1.3 7.2-2.7 2.6 4 -2.6 17.7 -7.2 13.3z"/>
<path fill="#f6f6ff" d="M1248.1 65.5l5-2 14.5-8.3 21.7-10 7.2-2.9 7.2-1.3 303.8 0 0 294.2 -234 0 -3.4-49 -1.3-1.7 -7.2-7 -2.9-3.6 -6.7-12.3 -4.9-2.6 -4.6-3.2 -2.6-1.1 -7.2-2 -14.5-1.7 -94-3.9 -21.7-2.6 -79.6 2.2 -21.7 1.3 -115.7-1 -7.2-1.1 -7.2-3.5 -7.3-2.7 -9.2-2.6 -41.4-4.6 -21.7-1.5 0-128.7 108.5 4.1 101.2-4.1 94.1 0 2-12.3 5.2-4 7.2-7.6 7.3-4.5 7.2-3 7.2-2zM1202.5 110.5l-2.5 4 96.5 8.7 151.9-0.2 28.9-3.5 25-5 -46.7-5.6 -7.2-0.5 -151.9 0.2 -36.2 1.8zM963.5 273.9l0.3-0.5 7.3 9.8 3.3 3 0.3 49 -22.1 0 4-49.7z"/>
<path fill="#e6e6ff" d="M1303.7 65.5l253.2 0 -3.4 24.5 -3.9 1.5 -7.2 2.1 -14.5 2.3 -28.9 2.1 -238.7-1.2 -7.2-1.7 -7.2-2.4 -5.9-2.7 20.3-9.4 14.5-2.8 7.2-2 7.3-2.9 7.2-4.4zM1607.5 114.5l0 220.6 -227.5 0 -1.1-49 -2.8-6 -4.9-6.3 -0.7-12.3 -16.1-7 -7.3-2.3 -7.2-1.7 -43.4-3.8 -72.3-2.2 -21.7-3.4 -7.2-0.4 -72.4 2.3 -21.7 2.1 -21.7 0.1 -28.9-2 -65.1-1.1 -7.2-1 -10.8-4.1 -10.9-2.1 -28.9-2.9 -14.5-2.3 -21.7-1.8 0-49.7 159.1-2 7.2-2.4 14.5-3 7.2-0.9 50.7-1.9 36.1 0.5 7.3 0.5 7.2 1 7.2 1.6 7.3 2.8 7.2 3.7 21.7 2.8 14.5 3.1 7.2 2.3 7.2 0.9 50.6-9.8 134.3-13.9 10.4-5.3 14.5-5.1 21.7-4.7 50.6-5.8 72.3-3.6zM1202.5 205.4l-1.9 7.2 1.9 1.9 7.2 2.5 14.5 1.7 7.2-3.1 3.6-3 -3.6-19.4 -7.2-2.2 -7.2 1.9 -7.3 3.6zM960 286.2l3.8-6.5 5.6 6.5 1.7 49 -16.4 0 1.9-24.8z"/>
<path fill="#d4d4ff" d="M1065 188.1l7.3-3.4 7.2-2.5 50.7-4.1 36.1 3.1 7.3 2 8.4 4.9 1.3 24.5 -2.5 3.6 -7.2 3.9 -36.2 3 -7.2 1 -2.5 0.8 2.5 0.8 65.1 10.7 7.2-3 7.2-5.1 7.3-2.1 14.4-2.4 7.3-2.6 6.3-8.6 0.9-2 7.2-6.2 274.8-8.8 79.6-7.5 0 32.7 -260.4-1.9 -28.9 2.7 -18.2 3.3 47.1 5.1 57.9 3 94-0.4 21.7-3.1 21.7-1.4 65.1-0.8 0 107.9 -222.1 0 0-49 -1.6-12.3 7.5-12.3 -3.9-5.8 -4.1-3.3 -14.5-5.6 -7.2-1.6 -21.7-2 -43.4-1.2 -65.1 0.2 -7.2-0.3 -14.5-2.5 -7.2-1.7 -7.2-0.6 -65.1 1.7 -7.3 0.5 -21.7 3.1 -21.7 0 -21.7-2.1 -7.2-1.1 -66.7-2.2 -5.6-0.5 -14.5-3 -36.1-3.5 -14.5-2.9 -21.7-2.3 0-28.7 21.7-1.7 14.5-3.4 122.9-0.3 7.2-1.1zM957.1 335.2l6.7-48.9 4 48.9z"/>
<path fill="#c4c4ff" d="M891.5 212.6l14.5-3.9 7.2-1.5 14.5-10 7.2-1 130.2 0.4 14.4 0.9 7.3 3.9 5.5 11.2 0.7 12.3 8.2 2.6 7.3 3.5 8.2 6.1 -15.5 2.6 -21.7 0.1 -19.5-2.7 -9.4-1.9 -65.1-1.8 -7.2-0.4 -21.7-2.9 -28.9-2 -12.9-3.2 -1.6-3.2 -7.2-4.1 -7.3-2.8zM1212.5 237.1l4.5-2.8 7.2-3 21.7-1.9 7.2-0.1 28.9 4.1 19.7 3.7 -48.6 2.8 -28.9-0.4zM1542.4 237.1l65.1 0 0 98.1 -217.3 0 0-49 0.3-1.6 7.3-11 7.2-8.7 4.2-3.3 3-4.3 2.2-1.5 5.1-5.7 1.7-0.7 77.8-4.9 7.2-3 7.3-1.8zM962.8 335.2l1-7.1 0.6 7.1z"/>
<path fill="#b2b2ff" d="M918.9 212.6l8.8-9.4 7.2-1.6 65.1-1.2 50.6 1.4 7.2 1.3 7.3 2 7.2 3.5 4.9 4 -7 12.3 -5.1 4.1 -7.3 1.4 -7.2 0.6 -72.3-1.7 -43.4-2.4 -7.2-0.8 -4.2-1.2 -3.1-9.2zM1504.8 249.4l8.7-4.4 28.9-1.7 65.1 0 0 91.9 -211.1 0 0-49 1.4-2.3 7.2-5.3 7.5-4.7 7-5.1 7.2-3.8 7.2-2.2 5.6-1.2 8.9-4.1 7.2-2 14.5-2.3 28.9-1.7z"/>
<path fill="#a2a2ff" d="M924.8 212.6l2.9-3.3 7.2-2.3 65.1-1.7 50.6 2 7.2 2.5 5.7 2.8 -6.7 12.3 -6.2 1.9 -116.1-1.9 -6.8-4.9zM1520.7 249.4l86.8 0 0 85.8 -200 0 0-49 12-7.9 7.2-5.3 7.2-4 14.5-4.6 21.7-5.6 28.9-3.2 7.2-1.5 7.3-3.4z"/>
<path fill="#9090ff" d="M934.4 212.6l65.6-2.4 47.7 2.4 -4.3 1.4 -21.7 2.5 -21.7 1.2 -65.1-4.7zM1522.7 255.8l5.2-1.2 79.6-0.3 0 80.9 -187.5 0 0-49 6.7-4.7 9.5-7.6 5-2.3 7.2-2.4 14.5-1.9 7.2-1.6 14.9-4.1z"/>
<path fill="#8080ff" d="M1515 261.6l12.9-2 79.6-0.4 0 76 -175 0 0-49 15.9-12.3 21.7 0 7.2-3.4 7.3-3.9 7.2-1.5z"/>
<path fill="#6e6eff" d="M1481 273.9l3.6-2.5 7.2-1.9 21.7-1.6 7.2-2.8 7.2-1.7 65.1-0.1 14.5 0.8 0 71.1 -162.6 0 0-49 3.5-2.7 7.2-3.1 7.3-1.6 7.2-0.9 7.2-2z"/>
<path fill="#5d5dff" d="M1491.8 273.9l21.7 0 7.2-4.6 7.2-2.9 57.9-0.2 7.2 0.4 14.5 2.4 0 66.2 -150.5 0 0-49 5.9-2.4 14.4-4 7.3-3.7z"/>
<path fill="#4c4cff" d="M1520.1 273.9l7.8-4.5 57.9-0.1 7.2 0.6 7.3 1.7 7.2 2.3 0 61.3 -138.7 0 0.2-49 8.3-2.6 7.3-3 7.2-2.3 21.7-1.7z"/>
<path fill="#3b3bff" d="M1525.4 273.9l2.5-1.5 57.9 0 7.2 0.7 7.3 1.9 7.2 1.4 0 58.8 -128.5 0 2.5-49 10.3-3.6 14.4-2.5 7.3-0.8 7.2-2.6z"/>
<path fill="#2a2aff" d="M1494 286.2l12.2-3.1 7.3-1.1 7.2-2.2 7.2-3.7 57.9-0.4 7.2 0.7 14.5 2.4 0 56.4 -118.5 0 2.8-29.9z"/>
<path fill="#1919ff" d="M1506.5 286.2l14.2-3.3 7.2-2.6 14.5-1.1 43.4 0 21.7 2.1 0 53.9 -108.5-0.1z"/>
<path fill="#0808ff" d="M1519.7 286.2l15.5-2.6 7.2-0.9 50.6 0.2 14.5 0.8 0 51.5 -98.5 0 4.5-24.7z"/>
</g>
<rect x="1590" y="286.3" width="20" height="53.69999999999999" fill="#fff"/>
<path d="M891.5 55.5C951.2 55.4 1183.6 55.1 1250.0 55.0C1316.4 54.9 1283.3 55.0 1290.0 55.0M891.5 83.3C936.2 83.3 1115.0 83.3 1159.7 83.3M1258.7 82.9C1316.8 83.1 1549.4 83.8 1607.5 84.0M891.5 121.2C920.8 121.8 1022.9 124.5 1067.4 125.0C1111.9 125.5 1128.2 124.8 1158.6 124.4C1189.0 124.0 1203.1 123.3 1249.8 122.8C1296.5 122.3 1397.8 121.2 1438.8 121.6C1479.8 122.0 1467.7 123.0 1495.8 125.0C1523.9 127.0 1588.9 132.1 1607.5 133.5M891.5 219.4C914.2 219.5 992.9 219.5 1027.9 220.0C1063.0 220.5 1077.2 221.0 1101.8 222.4C1126.4 223.8 1155.2 226.1 1175.7 228.6C1196.2 231.1 1212.7 235.2 1225.0 237.2C1237.3 239.2 1231.5 239.9 1249.7 240.5C1267.9 241.1 1313.8 241.2 1334.0 240.9C1354.2 240.6 1355.3 239.2 1370.9 238.4C1386.5 237.6 1418.1 236.4 1427.6 236.0M1523.7 244.0C1531.1 243.7 1554.0 242.6 1568.0 242.0C1582.0 241.4 1600.9 240.7 1607.5 240.4M891.5 251.5C901.9 251.8 931.3 252.7 954.0 253.2C976.7 253.7 1003.3 253.8 1027.9 254.4C1052.5 255.0 1081.3 255.3 1101.8 257.0C1122.3 258.6 1136.6 261.2 1151.0 264.3C1165.4 267.4 1177.7 271.3 1188.0 275.4C1198.3 279.5 1204.5 283.9 1212.7 289.0C1220.9 294.1 1231.2 301.9 1237.4 306.2C1243.6 310.5 1247.9 313.4 1250.0 314.8C1257.8 313.8 1278.9 310.9 1297.0 308.7C1315.1 306.4 1338.1 303.1 1358.6 301.3C1379.1 299.5 1405.6 297.8 1420.0 297.6C1434.4 297.4 1436.5 298.6 1444.8 300.0C1453.0 301.4 1461.3 303.9 1469.5 306.2C1477.7 308.5 1487.0 311.6 1494.0 313.6C1501.0 315.7 1508.5 317.7 1511.4 318.5C1516.7 318.3 1530.3 318.1 1543.4 317.3C1556.5 316.5 1579.3 314.4 1590.0 313.6C1600.7 312.8 1604.6 312.6 1607.5 312.4M891.5 278.6C895.8 279.7 908.6 282.5 917.0 285.2C925.4 287.9 934.2 292.0 941.6 295.0C949.0 298.0 958.0 301.8 961.3 303.2C964.2 303.0 969.6 302.3 978.6 301.8C987.6 301.3 1009.4 300.3 1015.5 300.0M1111.7 308.2C1116.2 309.3 1130.2 311.9 1138.8 314.8C1147.4 317.8 1157.0 322.4 1163.4 325.9C1169.8 329.3 1174.7 333.9 1177.0 335.5" fill="none" stroke="#000" stroke-width="2.6" stroke-linejoin="round" stroke-linecap="butt"/>
<path d="M891.5 84.0C901.8 84.8 931.7 87.8 953.4 88.6C975.1 89.4 1002.8 89.1 1021.8 88.6C1040.8 88.1 1052.2 86.8 1067.4 85.6C1082.6 84.4 1097.8 83.1 1113.0 81.7C1128.2 80.3 1143.4 78.5 1158.6 77.2C1173.8 75.9 1190.7 74.8 1204.0 73.8C1217.3 72.8 1228.7 72.1 1238.4 71.5C1248.1 70.9 1258.1 70.2 1262.0 70.0M891.5 125.0C898.0 125.8 918.4 128.1 930.6 129.6C942.8 131.1 949.6 133.4 964.8 134.2C980.0 135.0 1000.9 134.8 1021.8 134.6C1042.7 134.4 1071.2 133.6 1090.2 133.0C1109.2 132.4 1120.6 131.6 1135.8 130.8C1151.0 130.1 1160.9 129.8 1181.4 128.5C1201.9 127.2 1240.5 125.5 1258.7 122.8C1276.9 120.1 1276.9 115.4 1290.6 112.5C1304.3 109.6 1325.6 105.8 1340.8 105.2C1356.0 104.6 1363.6 107.6 1381.8 109.0C1400.0 110.4 1431.0 111.4 1450.0 113.7C1469.0 116.0 1480.6 119.9 1495.8 122.8C1511.0 125.7 1522.8 128.0 1541.4 130.8C1560.0 133.7 1596.5 138.4 1607.5 139.9M1280.0 261.8C1275.0 262.2 1259.2 263.1 1250.0 264.3C1240.8 265.5 1235.3 267.4 1225.0 269.2C1214.7 271.0 1200.3 274.2 1188.0 275.4C1175.7 276.6 1157.2 276.4 1151.0 276.6C1149.0 274.3 1145.2 266.7 1139.0 263.0C1132.8 259.3 1124.3 257.1 1114.0 254.4C1103.7 251.7 1087.2 249.9 1077.0 247.0C1066.8 244.1 1058.7 240.9 1052.5 237.2C1046.3 233.5 1046.2 228.0 1040.0 225.0C1033.8 222.0 1024.0 220.5 1015.0 219.0C1006.0 217.5 992.5 217.3 986.0 216.0C979.5 214.7 977.7 211.8 976.0 211.0C984.7 210.6 1007.0 208.6 1028.0 208.6C1049.0 208.6 1081.5 210.2 1102.0 211.0C1122.5 211.8 1140.8 213.5 1151.0 213.5C1161.2 213.5 1159.3 213.9 1163.4 211.0C1167.5 208.1 1170.8 201.3 1175.7 196.3C1180.6 191.3 1186.2 185.8 1192.8 181.0C1199.4 176.2 1206.1 172.0 1215.6 167.2C1225.1 162.4 1232.3 154.5 1250.0 152.0C1267.7 149.5 1293.3 151.8 1321.6 152.4C1349.9 153.0 1395.3 155.7 1420.0 155.6C1444.7 155.5 1451.0 154.2 1469.5 151.9C1488.0 149.6 1508.0 144.5 1531.0 142.0C1554.0 139.5 1594.8 137.8 1607.5 137.0M891.5 251.5C903.9 251.7 953.6 252.3 966.0 252.5M891.5 273.7C897.8 273.6 917.4 273.4 929.0 273.0C940.6 272.6 950.7 270.6 961.0 271.2C971.3 271.8 981.5 272.4 991.0 276.6C1000.5 280.8 1007.8 288.5 1018.0 296.3C1028.2 304.1 1045.5 316.9 1052.5 323.4C1059.5 329.9 1058.8 333.5 1060.0 335.5M891.5 300.0C895.8 300.2 909.8 301.3 917.0 301.3C924.2 301.3 932.0 300.2 935.0 300.0M998.3 313.6C1000.3 315.7 1007.3 322.2 1010.6 325.9C1013.9 329.5 1016.8 333.9 1018.0 335.5M891.5 323.4C897.8 323.4 917.7 324.0 929.3 323.4C940.9 322.8 953.1 319.3 961.3 319.7C969.5 320.1 973.6 323.3 978.6 325.9C983.6 328.5 988.9 333.9 991.0 335.5M1052.5 279.0C1056.6 281.9 1071.0 290.5 1077.2 296.3C1083.4 302.1 1085.4 309.1 1089.5 313.6C1093.6 318.1 1098.5 319.8 1101.8 323.4C1105.1 327.0 1108.0 333.5 1109.2 335.5M1607.5 192.6C1596.8 194.8 1558.2 203.1 1543.4 206.0C1528.6 208.9 1535.1 209.6 1518.7 209.8C1502.3 210.0 1467.4 207.4 1444.8 207.4C1422.2 207.4 1404.8 208.6 1383.0 209.8C1361.2 211.0 1330.4 213.0 1314.0 214.7C1297.6 216.4 1295.7 217.5 1284.6 220.0C1273.5 222.5 1256.2 225.3 1247.6 229.8C1239.0 234.3 1235.4 244.1 1232.9 247.0C1233.7 249.1 1233.3 256.7 1237.8 259.4C1242.3 262.1 1250.1 262.8 1260.0 263.0C1269.9 263.2 1282.6 260.8 1297.0 260.6C1311.4 260.4 1335.5 262.8 1346.2 261.8C1356.9 260.8 1356.1 256.6 1361.0 254.4C1365.9 252.2 1366.0 250.6 1375.8 248.3C1385.6 246.1 1404.4 242.4 1420.0 240.9C1435.6 239.4 1453.0 239.2 1469.5 239.6C1486.0 240.0 1507.2 241.2 1518.7 243.3C1530.2 245.4 1532.7 248.1 1538.5 252.0C1544.3 255.9 1550.0 262.3 1553.3 266.8C1556.6 271.3 1559.8 274.1 1558.2 279.0C1556.6 283.9 1552.0 291.4 1543.4 296.3C1534.8 301.2 1516.7 304.2 1506.4 308.7C1496.1 313.2 1488.0 318.9 1481.8 323.4C1475.6 327.9 1471.5 333.5 1469.5 335.5M1260.0 264.3C1264.1 265.8 1274.3 271.4 1284.6 273.0C1294.9 274.6 1312.6 274.2 1321.6 274.0C1330.6 273.8 1334.7 273.3 1338.8 271.7C1342.9 270.1 1345.0 265.5 1346.2 264.3M1341.3 269.2C1343.3 272.5 1349.5 282.4 1353.6 289.0C1357.7 295.6 1361.5 300.9 1366.0 308.7C1370.5 316.4 1378.2 331.0 1380.7 335.5M1223.0 333.3C1227.1 332.7 1241.4 329.2 1247.6 329.6C1253.8 330.0 1257.9 334.5 1260.0 335.5" fill="none" stroke="#1c7a1c" stroke-width="2.6" stroke-dasharray="7.6 3.3" stroke-linejoin="round"/>
<path d="M920.4 90.0L934.3 50.4M934.3 50.4L951.9 51.0M932.6 55.4L950.2 56.0M930.8 60.3L939.6 60.6M992.6 90.0L1006.5 50.4M1006.5 50.4L1024.1 51.0M1004.8 55.4L1022.4 56.0M1003.0 60.3L1011.8 60.6M1064.8 90.0L1078.7 50.4M1078.7 50.4L1096.3 51.0M1077.0 55.4L1094.6 56.0M1075.2 60.3L1084.0 60.6M1137.0 90.0L1150.9 50.4M1150.9 50.4L1168.5 51.0M1149.2 55.4L1166.8 56.0M1147.4 60.3L1156.2 60.6M1209.2 90.0L1223.1 50.4M1223.1 50.4L1240.7 51.0M1221.4 55.4L1239.0 56.0M1219.6 60.3L1228.4 60.6M1281.4 90.0L1301.2 53.0M1301.2 53.0L1318.5 56.3M1298.8 57.6L1316.0 60.9M1353.6 90.0L1379.5 57.0M1379.5 57.0L1396.0 63.3M1376.3 61.1L1392.8 67.4M1425.8 90.0L1455.8 60.6M1455.8 60.6L1471.3 68.9M1452.0 64.3L1467.5 72.6M1498.0 90.0L1530.8 63.8M1530.8 63.8L1545.4 73.6M1526.7 67.1L1541.3 76.9M1570.2 90.0L1603.7 64.7M1603.7 64.7L1618.0 74.9M1599.5 67.9L1613.8 78.1M920.4 163.6L891.8 132.8M891.8 132.8L900.6 117.5M895.4 136.6L904.2 121.4M899.0 140.5L907.7 125.2M992.6 163.6L964.2 132.7M964.2 132.7L973.0 117.4M967.7 136.5L976.5 121.3M971.3 140.4L980.1 125.2M1064.8 163.6L1036.4 132.7M1036.4 132.7L1045.2 117.4M1039.9 136.5L1048.7 121.3M1043.5 140.4L1052.3 125.2M1137.0 163.6L1109.8 131.6M1109.8 131.6L1119.2 116.7M1113.2 135.6L1122.6 120.7M1116.6 139.6L1121.3 132.1M1209.2 163.6L1183.0 130.8M1183.0 130.8L1192.8 116.2M1186.2 134.9L1196.1 120.3M1281.4 163.6L1256.5 129.7M1256.5 129.7L1266.9 115.6M1259.6 134.0L1264.8 126.9M1353.6 163.6L1328.7 129.7M1328.7 129.7L1339.1 115.6M1331.8 134.0L1337.0 126.9M1425.8 163.6L1397.4 132.6M1397.4 132.6L1406.2 117.4M1498.0 163.6L1465.9 136.5M1465.9 136.5L1472.7 120.3M1570.2 163.6L1531.9 146.4M1531.9 146.4L1533.9 129.0M920.4 224.9L881.0 210.4M881.0 210.4L881.9 192.8M885.9 212.2L886.8 194.6M992.6 224.9L953.9 208.6M953.9 208.6L955.6 191.1M958.7 210.6L960.4 193.1M1064.8 224.9L1025.2 211.0M1025.2 211.0L1025.8 193.4M1030.1 212.7L1030.4 203.9M1137.0 224.9L1096.6 213.5M1096.6 213.5L1096.1 195.9M1101.6 214.9L1101.1 197.3M1209.2 224.9L1168.7 213.7M1168.7 213.7L1168.1 196.1M1173.8 215.1L1173.2 197.5M1281.4 224.9L1241.5 211.9M1241.5 211.9L1241.7 194.3M1246.5 213.5L1246.7 195.9M1353.6 224.9L1313.3 213.0M1313.3 213.0L1313.0 195.4M1318.4 214.5L1318.1 196.9M1425.8 224.9L1384.5 217.5M1384.5 217.5L1382.2 200.0M1389.6 218.4L1387.4 201.0M1498.0 224.9L1456.3 219.9M1456.3 219.9L1453.1 202.6M1461.5 220.5L1458.3 203.2M1466.7 221.1L1465.1 212.5M1570.2 224.9L1528.3 222.2M1528.3 222.2L1524.1 205.1M1533.5 222.6L1529.3 205.5M1538.8 222.9L1536.7 214.4M920.4 261.6L951.9 289.5M951.9 289.5L944.7 305.5M992.6 261.6L1024.4 289.1M1024.4 289.1L1017.4 305.2M1064.8 261.6L1101.1 282.7M1094.3 278.8L1092.4 287.3M1137.0 261.6L1166.7 291.3M1161.1 285.8L1157.0 293.6M1209.2 261.6L1177.0 288.6M1183.1 283.6L1175.6 278.8M1281.4 261.6L1240.4 270.8M1240.4 270.8L1231.6 255.5M1353.6 261.6L1312.0 267.1M1312.0 267.1L1304.6 251.2M1317.2 266.5L1313.5 258.5M1425.8 261.6L1384.2 267.2M1384.2 267.2L1376.7 251.2M1389.4 266.5L1385.7 258.5M1498.0 261.6L1456.6 268.5M1456.6 268.5L1448.6 252.8M1461.7 267.7L1457.8 259.8M1570.2 261.6L1528.8 268.5M1528.8 268.5L1520.9 252.7M1533.9 267.6L1526.0 251.9M920.4 298.4L959.9 312.8M959.9 312.8L959.0 330.4M992.6 298.4L1032.0 313.0M1032.0 313.0L1031.0 330.6M1064.8 298.4L1102.4 317.1M1095.4 313.6L1094.0 322.3M1137.0 298.4L1172.2 321.3M1172.2 321.3L1167.5 338.2M1281.4 298.4L1248.6 324.7M1254.8 319.8L1247.5 314.9M1353.6 298.4L1315.0 315.1M1322.3 312.0L1316.5 305.3M1425.8 298.4L1386.4 313.0M1393.8 310.3L1388.4 303.3M1498.0 298.4L1458.5 312.8M1465.9 310.1L1460.6 303.1M1570.2 298.4L1531.0 313.6M1531.0 313.6L1520.1 299.8M920.4 335.2L953.4 361.2M953.4 361.2L947.1 377.7M992.6 335.2L1025.6 361.2M1025.6 361.2L1019.3 377.7M1064.8 335.2L1097.1 362.1M1091.0 357.0L1087.7 365.2M1137.0 335.2L1168.9 362.5M1168.9 362.5L1161.9 378.7" fill="none" stroke="#0000c8" stroke-width="2" stroke-linejoin="miter"/>
<circle cx="1209.2" cy="298.4" r="6.5" fill="none" stroke="#0000c8" stroke-width="2"/>
<circle cx="1209.2" cy="335.2" r="6.5" fill="none" stroke="#0000c8" stroke-width="2"/>
<path d="M1250.3 41.0V335.2" stroke="#f01818" stroke-width="1.4" fill="none"/>
</g>
<rect x="891.5" y="41.0" width="716.0" height="294.2" fill="none" stroke="#000" stroke-width="1.3"/>
<path d="M884.7 41.00H891.5" stroke="#000" stroke-width="1.3"/>
<text x="879.3" y="50.0" text-anchor="end" font-size="22.4">400</text>
<path d="M884.7 139.07H891.5" stroke="#000" stroke-width="1.3"/>
<text x="879.3" y="148.1" text-anchor="end" font-size="22.4">600</text>
<path d="M884.7 237.13H891.5" stroke="#000" stroke-width="1.3"/>
<text x="879.3" y="246.1" text-anchor="end" font-size="22.4">800</text>
<path d="M884.7 335.20H891.5" stroke="#000" stroke-width="1.3"/>
<text x="879.3" y="344.2" text-anchor="end" font-size="22.4">1000</text>
<path d="M891.50 335.2V342.0" stroke="#000" stroke-width="1.3"/>
<path d="M992.90 335.2V342.0" stroke="#000" stroke-width="1.3"/>
<path d="M1101.40 335.2V342.0" stroke="#000" stroke-width="1.3"/>
<path d="M1209.90 335.2V342.0" stroke="#000" stroke-width="1.3"/>
<path d="M1318.40 335.2V342.0" stroke="#000" stroke-width="1.3"/>
<path d="M1426.90 335.2V342.0" stroke="#000" stroke-width="1.3"/>
<path d="M1535.40 335.2V342.0" stroke="#000" stroke-width="1.3"/>
<path d="M1607.50 335.2V342.0" stroke="#000" stroke-width="1.3"/>
<text x="991.7" y="363.5" text-anchor="middle" font-size="20">36.00°N</text>
<text x="991.7" y="389.0" text-anchor="middle" font-size="20">50.58°E</text>
<text x="1100.2" y="363.5" text-anchor="middle" font-size="20">35.89°N</text>
<text x="1100.2" y="389.0" text-anchor="middle" font-size="20">50.86°E</text>
<text x="1208.7" y="363.5" text-anchor="middle" font-size="20">35.79°N</text>
<text x="1208.7" y="389.0" text-anchor="middle" font-size="20">51.15°E</text>
<text x="1317.2" y="363.5" text-anchor="middle" font-size="20">35.69°N</text>
<text x="1317.2" y="389.0" text-anchor="middle" font-size="20">51.43°E</text>
<text x="1425.7" y="363.5" text-anchor="middle" font-size="20">35.58°N</text>
<text x="1425.7" y="389.0" text-anchor="middle" font-size="20">51.72°E</text>
<text x="1534.2" y="363.5" text-anchor="middle" font-size="20">35.48°N</text>
<text x="1534.2" y="389.0" text-anchor="middle" font-size="20">52.00°E</text>
<text x="860.6" y="26.8" font-size="22.3" font-weight="bold">(b)</text>
<rect x="1281.3" y="39.3" width="325.9" height="37.2" rx="5.5" ry="5.5" fill="#fff" stroke="#000" stroke-width="1.4"/>
<text x="1289.0" y="65.3" font-size="23.8" font-weight="bold">21:00 UTC, Angle: 110°</text>
<g clip-path="url(#clipb)"><text transform="translate(1208.8 81.7) rotate(0)" text-anchor="middle" font-size="22.5" style="fill:#000;stroke:#000" dy="8.2">330</text>
<text transform="translate(1477 236) rotate(-5)" text-anchor="middle" font-size="22.5" style="fill:#000;stroke:#000" dy="8.2">320</text>
<text transform="translate(1064.8 302.5) rotate(-8)" text-anchor="middle" font-size="22.5" style="fill:#000;stroke:#000" dy="8.2">310</text>
<text transform="translate(1288 68) rotate(0)" text-anchor="middle" font-size="22.5" style="fill:#1f7a1f;stroke:#1f7a1f" dy="8.2">340</text>
<text transform="translate(1011.9 263) rotate(-35)" text-anchor="middle" font-size="22.5" style="fill:#1f7a1f;stroke:#1f7a1f" dy="8.2">350</text>
<text transform="translate(962.6 295.1) rotate(-25)" text-anchor="middle" font-size="22.5" style="fill:#1f7a1f;stroke:#1f7a1f" dy="8.2">360</text></g>
</g>
<g id="panel-c">
<g clip-path="url(#clipc)">
<rect x="104.5" y="394.5" width="715.5" height="295.29999999999995" fill="#fffcfc"/>
<g fill-rule="evenodd" stroke="none">
<path fill="#fff7f7" d="M104.5 394.5l715.5 0 0 295.3 -585.9 0 0-61.5 -6.7-4 -7.3-3.2 -7.2-3.7 -14.4-4.1 -14.5-2.3 -7.2-1.9 -7.3-1.2 -65-2.2 0-137.1 37.5 24.3 5.9 15.8 4.1 8.8 24.8 6.3 43.3 7 28.9 3.1 7.3 2.7 10.4 5.6 -3.2 5.3 -8.5 19.3 8.5 4.8 7.2 6.1 1.1 1.4 6.2 2.2 7.2 4.7 3.5 5.4 10.9 3.8 21.7 2 28.9 0.4 43.4 4.8 50.6 0.5 14.4 5.4 7.3 1.3 43.3 1.5 7.3-0.1 7.2-1.6 7.2-3.1 14.5-10.1 4.9-4.8 -2.3-12.3 4.6-2.6 7.2-2.4 7.2-1.7 36.2-5 7.9-0.6 -1.1-24.6 7.6-10.1 7.3-5.4 7.2-3.3 7.2-2.2 21.7-4 36.1-11.1 50.6-10 12.3-3.2 0-24.6 -156.8-13.1 -122.9-1.6 -7.6-9.9 -6.8-11.9 -7.3-3.7 -260.1 3.4 -57.9 5.4 -28.9 5 -7.2 1.7z"/>
<path fill="#fff2f2" d="M104.5 394.5l715.5 0 0 65.6 -224-13.5 -115.7-2.9 -7.2-24.1 -368.6-0.5zM630 542.1l9.3-6.7 7.2-3.1 14.5-4.6 21.7-4.4 21.7-2.7 115.6-3.2 0 172.3 -582 0 -0.2-61.5 -3.2-2.7 -14.5-6.3 -6.3-3.3 -0.9-1.1 -7.2-2.5 -21.7-4.8 -7.2-2.6 -7.3-1.3 -65 0 0-61.5 122.9 24 0.4 0.6 6.8 1.5 7.2 2.8 7.2 3.5 7.3 4.5 14.4 3.8 7.3 3.4 6 5.1 8.4 3.3 7.2 1.8 21.7 1.7 28.9 0.5 43.4 5.1 50.6 0.9 14.4 5.3 7.3 1.3 50.6 3 14.4-1.5 7.2-2.8 4.6-6.3 2.7-1.8 7.2-6.4 2.4-4.1 3-12.3 9-3.5 7.3-1.8 28.9-4.8 14.4-1.4 4.7-0.8 2.6-14.3z"/>
<path fill="#ffeded" d="M652 542.1l9-4 14.5-4.7 21.6-4.9 36.2-4.4 86.7-3.6 0 169.2 -578 0 -0.4-61.5 -7-5.9 -14.5-4.8 -3-1.6 -4.2-4.8 -21.7-4.7 -8.5-2.8 -5.9-3.2 -7.3-0.9 -65 0 0-28.7 115.6 1.9 7.3 1 7.2 2.7 7.2 3.3 28.9 7.2 7.3 4.4 7.2 3.2 7.2 1.9 7.2 1.3 21.7 1.4 21.7 0.1 21.7 2.1 16.3 2.3 63.2 3 14.4 5 7.3 1.3 32.1 3 11.2 4.3 7.3 2.2 7.2 1.2 7.2 1.8 7.2 2.6 7.3-10.1 5.5-14.3 1.7-1.4 6.4-10.9 0.8-2.5 6.7-9.8 7.8-2.8 21.7-4.7 21.6-2.7 11-2.1 3.5-10.1 7.2-9.1 7.2-4.3z"/>
<path fill="#ffe8e8" d="M676 542.1l13.9-4.5 21.7-5.2 36.1-5 72.3-3.8 0 166.1 -258.5 0 0-61.5 0.6-12.3 -2.3-8 -0.8-4.3 5-12.3 3-4.7 6.7-7.6 22.3-5.7 28.9-4.6 9.4-2 5-9 7.2-9.4 7.3-3.2 14.4-2.3zM104.5 591.4l0-12.3 115.6 0 14.5 5 36.5 7.3 6.9 4.7 21.6 3 21.7 1.1 21.7 0.1 21.7 2.3 7.2 1.1 65.1 4 7.2 1 14.4 4.7 16.7 2.6 5 4.6 7.2 3.7 10.5 4 0 61.5 -251.8 0 0-49.2 -1.2-12.3 -3.2-6 -7.2-3.1 -7.2-1.2 -6.8-2 -7.7-8.6 -14.4-1.7 -7.3-2.2 -7.2-5.5 -7.2-2 -72.3-0.5z"/>
<path fill="#ffe3e3" d="M699.7 542.1l19.1-5.3 28.9-5 72.3-5 0 163 -247 0 0-73.8 -6-12.5 3.1-12.1 10.8-12.3 15.1-4 28.9-5 14.7-3.3 6.9-13.3 7.3-5 7.2-2 14.5-2.3zM270.7 603.7l7.3-2.9 7.2-0.7 57.8 1.1 86.7 7.2 14.5 2.3 14.4 4.4 4.6 0.9 2.7 3.5 9.4 8.8 0 61.5 -224.6 0 0-49.2 -2.4-12.3 -6.5-12.3 7.2-12.3z"/>
<path fill="#ffdede" d="M720 542.1l20.5-4.8 21.7-3.3 57.8-4.3 0 160 -237.1 0 0-73.8 -7.9-12.3 2.3-12.3 10.6-12.3 15.3-3.9 36.1-7 3-1.4 4.2-8.3 7.3-6.7 7.2-2.6 14.5-3zM282 603.7l3.2-0.9 7.2-1 50.6 0.4 86.7 7.6 7.3 1.1 7.2 1.8 11 3.3 3.4 5.6 4.9 6.7 0.4 12.3 0 49.2 -207.9 0 0-49.2 -3.2-12.3 1.2-12.3 2.3-3.4 7.2-4.2 7.2-1.5z"/>
<path fill="#ffd9d9" d="M740 542.1l22.2-4.2 57.8-5.1 0 156.9 -229.3 0 0-73.8 -2-4.5 -5.4-7.8 1.1-12.3 4.3-5.1 5.3-7.2 16.4-3.9 28.9-5.7 5.6-2.7 1.6-3.2 7.3-8.5 7.2-3.2 7.2-2.2 7.3-1.5zM292 603.7l7.6-0.7 43.4 0.2 72.3 6 14.4 1.9 7.3 1.5 11.5 3.4 7.8 12.3 1.5 12.3 0 49.2 -196.5 0 0-49.2 -3.7-12.3 2.4-12.3 3.5-2.8 14.5-5.8z"/>
<path fill="#ffd4d4" d="M760.6 542.1l59.4-6.2 0 153.8 -224 0 0-74 -4.3-12.1 -0.3-12.3 8.6-12.3 39.3-8.3 8.2-4 6.3-8.3 7.2-4 7.2-2.5 7.3-1.8 7.2-1.2zM266 616l12-5.9 7.2-2.5 7.2-2 7.2-1.1 43.4-0.4 65 5.2 21.7 3.2 7.3 1.7 5.5 1.8 8.2 12.3 2.8 12.3 0 49.2 -186.8 0 0-49.2 -4.3-12.3z"/>
<path fill="#ffcfcf" d="M790 542.1l30-3.1 0 150.7 -218.7 0 0-73.8 -3-24.6 7.7-12.3 33.3-6.9 7.2-3.2 3.5-2.2 3.8-5 7.2-4.6 7.2-2.9 7.3-2.1 7.2-1.4zM271.8 616l6.2-3.2 7.2-2.9 7.2-2.2 7.2-1.4 43.4-1.5 65 5.4 21.7 3.7 7.8 2.1 7.8 12.3 4 12.3 0 49.2 -177.5 0 0-49.2 -4.6-12.3z"/>
<path fill="#ffc9c9" d="M652.5 566.8l1.3-1.7 7.2-5.2 7.2-3.3 7.3-2.4 7.2-1.6 137.3-10.4 0 147.6 -213.3 0 0-73.8 0.4-12.3 -2-12.3 7-12.3 27.2-5.6 7.2-2.8zM277 616l8.2-3.8 7.2-2.5 7.2-1.7 43.4-2.4 57.8 4.5 14.5 2.1 17.2 3.8 4.5 6 3.8 6.3 4.2 12.3 0.2 49.2 -169.1 0 0-49.2 -4.2-12.3z"/>
<path fill="#ffc4c4" d="M655.5 566.8l5.5-4.2 7.2-3.7 7.3-2.7 7.2-1.8 137.3-10.4 0 145.8 -207.8 0 0-73.8 2.1-12.3 -2.4-12.3 6.3-12.3 21.1-4.3 7.2-2.5zM282 616l10.4-4.3 7.2-1.9 21.7-2.3 21.7-1.1 36.1 2.1 28.9 3.4 19.5 4.1 9.2 12.3 4.1 12.3 0.9 49.2 -161.4 0 0-49.2 -4.2-12.3z"/>
<path fill="#ffbfbf" d="M659 566.8l2-1.5 7.2-4.1 7.3-3.1 7.2-1.8 36.1-4.2 101.2-6.2 0 143.9 -201.8 0 0-73.8 3.2-12.3 -3.2-12.3 6.3-12.3 14.8-3 7.2-2.2 7.3-3.8zM287 616l5.4-2.2 7.2-2.3 14.5-2.2 28.9-2.1 28.9 1.2 36.1 4.3 14.5 3.3 7.2 8.4 2.8 3.9 4.2 12.3 1.6 49.2 -153.8 0 0-49.2 -4.2-12.3z"/>
<path fill="#ffbaba" d="M662.7 566.8l5.5-3.3 7.3-3.4 7.2-2 36.1-4.3 101.2-6 0 142 -195.5 0 0-73.8 4.1-12.3 -4.1-12.3 6.3-12.3 15.7-3.5 7.3-3.3zM292 616l7.6-2.7 14.5-2.8 28.9-2.6 28.9 1.1 28.9 3.4 17.6 3.6 9.9 12.3 4.2 12.3 2.5 49.2 -146.3 0 0-49.2 -4.2-12.3z"/>
<path fill="#ffb5b5" d="M666.5 566.8l9-4.7 7.2-2.2 36.1-4.5 101.2-5.7 0 140.1 -189.2 0 0-73.8 4.9-12.3 -4.9-12.3 6.6-12.3 9.1-1.9 7.3-2.6 7.2-3.7zM297 616l9.9-2.9 14.4-2.4 21.7-2 28.9 0.9 28.9 3.6 13.7 2.8 9.7 12.3 4.1 12.3 3.4 49.2 -138.9 0 0-49.2 -4.1-12.3 3.7-6.1z"/>
<path fill="#ffb0b0" d="M670.4 566.8l5.1-2.7 7.2-2.3 36.1-4.7 101.2-5.5 0 138.2 -182.3 0 0-73.8 5.2-12.3 -5.2-12.3 7.6-12.3 8.5-2.3 7.2-3.1 7.2-4.7zM302 616l12.1-3 21.7-2.9 7.2-0.6 28.9 0.7 28.9 3.7 10 2.1 4.5 4.7 5.5 7.6 1.7 7.4 1.7 4.9 4.1 49.2 -131.7 0 0-49.2 -3.8-12.3 6.8-9.6z"/>
<path fill="#ffabab" d="M674.2 566.8l8.5-3.2 36.1-4.9 101.2-5.2 0 136.3 -173 0 0-73.8 3.4-12.3 -3.4-12.3 6.8-12.4 7.2-2.4 7.2-3.6zM307 616l14.3-3.1 21.7-2.6 28.9 0.5 28.9 3.9 6.3 1.3 8.2 8.5 2.7 3.8 3 12.3 1.5 21.9 2.5 27.3 -124.7 0 0-49.2 -3.4-12.3 2.7-3.9z"/>
<path fill="#ffa6a6" d="M678.9 566.8l3.8-1.4 36.1-5.1 101.2-4.9 0 134.4 -163 0 0-73.8 2-12.3 -2-12.3 5.4-12.3 5.8-2.1 7.3-5.6zM312 616l16.5-3.2 14.5-1.8 28.9 0.4 31.5 4.6 4.6 3.6 7.3 9 3.2 12 3.4 49.2 -118.2 0 0-49.2 -2.9-12.3 6.1-7.4z"/>
<path fill="#ffa1a1" d="M685.7 566.8l33.1-4.8 101.2-4.7 0 132.5 -153.2 0 0-73.8 1.2-12.3 -1.2-12.3 7.2-12.3 1.5-0.9zM317 616l18.8-3.3 7.2-0.9 28.9 0.2 27.7 4 8.4 6.5 4.8 5.8 3.1 12.3 3.8 49.2 -112.7 0 -0.1-50 -2.2-11.5 2.2-2.7 7.2-7.3z"/>
<path fill="#ff9c9c" d="M697.1 566.8l21.7-3.2 101.2-4.4 0 130.6 -143.6 0 0-73.8 0.6-12.3 -0.6-12.3 6.3-8.7 7.2-6.1zM322 616l21-3.4 28.9 0 23.9 3.4 5 3 7.2 6.4 2.4 2.9 3.3 12.3 3.7 49.2 -107.1 0 0-49.2 -1.8-12.3 5.6-5.9z"/>
<path fill="#ff9696" d="M708.6 566.8l10.2-1.5 101.2-4.2 0 128.7 -132.3 0 0-98.4 2.2-2 21.1-10.3zM326.8 616l16.2-2.6 28.9-0.2 19.9 2.8 9 5.3 7.2 7.1 3.7 12.2 3.5 49.2 -101.5 0 0-49.2 -1.3-12.3 8.9-8.3z"/>
<path fill="#ff9191" d="M722.1 566.8l97.9-3.8 0 126.8 -109 0 0-98.4 25-12.3 -2.7-3.6zM331.6 616l11.4-1.9 28.9-0.4 15.8 2.3 5.9 2.8 7.2 4.9 4.8 4.6 4 12.3 3.7 49.2 -96.3 0 0-49.2 -0.8-12.3 5.1-4.7 7.2-5.8z"/>
<path fill="#ff8c8c" d="M770 566.8l50-1.9 0 124.9 -84 0 0-98.4 24.5-12.3 1.7-3.8zM336.4 616l6.6-1.1 28.9-0.6 11.6 1.7 10.1 4.8 7.2 5.2 2.4 2.3 4.3 12.3 3.9 49.2 -91.1 0 -0.2-61.5 8.4-7.5z"/>
<path fill="#ff8787" d="M785.4 579.1l5.7-2.9 14.4-5.4 14.5-4 0 123 -59.5 0 0-98.4zM341.2 616l9-0.9 21.7-0.2 7.4 1.1 14.3 6.8 7.2 5.5 4.6 12.3 4 49.2 -86.3 0 0.4-61.5 5-4.6 7.3-4.9z"/>
<path fill="#ff8282" d="M785.4 591.4l34.6-12.3 0 110.7 -34.6 0zM348.7 616l23.2-0.5 3.3 0.5 11.2 5 7.2 3.8 4.6 3.5 2.6 5.6 2.5 6.7 4.2 49.2 -82 0 0.7-49.2 0.6-12.3 9-7 7.2-4z"/>
<path fill="#ff7d7d" d="M330 628.3l5.8-4.5 7.2-4.3 7.2-1.9 14.5-1.2 7.2-0.1 14.5 6.6 7.2 3.9 1.9 1.5 5.7 12.3 4.4 49.2 -77.6 0 1.1-49.2z"/>
<path fill="#ff7878" d="M333.2 628.3l9.8-6.6 7.2-2.1 14.5-1.5 7.2-0.1 14.5 6.7 6.3 3.6 0.9 1.1 5.6 11.2 4.5 49.2 -73.3 0 1.5-49.2z"/>
<path fill="#ff7373" d="M336.4 628.3l6.6-4.5 7.2-2.3 14.5-1.6 7.2-0.3 17.4 8.7 4.3 4.9 3.7 7.4 4.5 49.2 -69 0 1.9-49.2z"/>
<path fill="#ff6e6e" d="M339.6 628.3l3.4-2.3 7.2-2.5 14.5-1.9 7.2-0.3 14.5 7.2 7.2 8.6 1.7 3.5 4.6 49.2 -64.7 0 2.3-49.2z"/>
<path fill="#ff6969" d="M342.8 628.3l7.4-2.8 14.5-2.2 7.2-0.4 10.8 5.4 3.7 2.6 7 9.7 4.6 49.2 -60.4 0 2.8-49.2z"/>
<path fill="#ff6363" d="M348 628.3l2.2-0.9 14.5-2.3 7.2-0.5 7.4 3.7 7.1 5 5.3 7.3 4.5 49.2 -56.2 0 3.2-49.2z"/>
<path fill="#ff5e5e" d="M356 628.3l8.7-1.5 7.2-0.5 7.2 4 7.3 5.4 3.5 4.9 4.4 49.2 -51.9 0 4.2-49.2 3.6-8.1z"/>
<path fill="#ff5959" d="M367.3 628.3l4.6-0.4 7.2 4.5 7.3 5.7 1.8 2.5 4.3 49.2 -47.2 0 4.6-49.2 7.6-8.6 7.2-3.3z"/>
<path fill="#ff5454" d="M353.7 640.6l3.8-4.3 7.2-4.5 7.2-1.7 7.2 4.5 7.4 6 4.3 49.2 -42.4 0 1.8-19.7z"/>
<path fill="#ff4f4f" d="M357.5 640.6l7.2-5.7 7.2-2.3 7.2 4.1 4.8 3.9 2.5 18.5 2.7 30.7 -37.3 0z"/>
<path fill="#ff4a4a" d="M361.4 640.6l3.3-2.7 7.2-2.9 7.2 3.9 2.2 1.7 5.1 38.2 0.9 11 -31.7 0z"/>
<path fill="#ff4545" d="M365.4 640.6l6.5-3.2 6.3 3.2 0.9 4.4 5.9 44.8 -25.5 0z"/>
<path fill="#ff4040" d="M370.4 640.6l1.5-0.8 1.5 0.8 5.7 27 3 22.2 -18.8 0 1.4-11.7z"/>
<path fill="#ff3b3b" d="M367.7 689.8l4.2-27.7 7.1 27.7z"/>
<path fill="#f6f6ff" d="M202 443.7l256.6-6.7 6.8 6.7 0.5 2.6 7.2 14.2 7.2 2.9 122.9 0.2 51.3 4.7 0 24.6 -29.6 9.1 -7.3 2.6 -7.2 3.5 -7.2 4.3 -7.2 5.2 -7.3 10.9 -6.9 13.7 6.9 10.4 4.6 14.2 -33.5 3.1 -7.2 1 -7.2 2.1 -7.3 6.2 6.4 12.2 -6.4 4.9 -14.4 8.6 -7.2 2.7 -7.3 0.5 -21.7-0.4 -21.6 0.2 -7.3-1.3 -14.4-5.2 -50.6-0.7 -43.4-4.1 -28.9-0.4 -21.7-2.3 -6.7-2.5 -0.5-1.3 -7.6-11 -3.5-12.3 11.1-12.5 7.2-11.4 1.5-0.7 -1.5-0.6 -7.2-8 -7.2-5.2 -7.2-3.5 -7.3-2.7 -14.4-3.5 -6.3-1.2 -8.2-4.3 -7.2-4.4 -7.2-5.1 -7.3-5.9 -5.1-4.9 -2.1-2.5 -7.2-5.9 -7.2-4 -17.7-12.2 10.4-14.7 7.3-8.3zM104.5 616l0-8.2 28.9 1.1 36.1 3.2 21.7 3.1 7.7 0.8 14 3.3 14.5 7 3.2 2 0 61.5 -126.1 0z"/>
<path fill="#e6e6ff" d="M366.4 517.5l5.5-5 7.2-8.5 7.3-3.4 7.2-1.1 65-0.2 7.3 1.8 7.2 4.2 7.2 12.2 -7.2 12.8 -7.2 4.2 -7.3 1.7 -57.8 0 -7.2-0.4 -7.2-1.5 -7.3-3.9 -7.2-8.6zM291 579.1l1.4-2.9 7.2-5.3 7.3-1.7 14.4-1.6 180.7 0.9 14.5 1.2 7.2 4 2.3 5.4 4.9 3.8 7.1 8.5 -21.5 12.9 -7.3 0.9 -21.7 0 -21.6 1 -7.3-1.3 -7.2-2.8 -7.2-2.3 -50.6-0.9 -43.4-3.3 -28.9-0.4 -14.4-1.5 -7.3-1.1 -3.2-1.2 -4-10.2zM104.5 616l0-6.2 28.9 1.7 36.1 4.6 29 1.6 14.4 3.6 14.3 7 0 61.5 -122.7 0z"/>
<path fill="#d4d4ff" d="M386 517.5l7.6-3.6 65 0 5 3.6 -5 3.8 -65-0.1zM297.8 579.1l1.8-1.7 7.3-3.2 7.2-2 7.2-1.3 144.6 0.5 21.6 1.6 14.5 2.3 7.2 1.9 7.3 3.4 7.2 5 6.2 5.8 -13.4 7.8 -7.3 2.1 -21.7 1.3 -21.6 1.9 -7.3-1.5 -7.2-2.8 -7.2-1.9 -50.6-1.1 -50.6-2.8 -21.7-0.1 -14.4-1.7 -6.7-1.2zM104.5 616l0-4.1 21.7 1.3 7.2 0.8 14.5 2.5 43.3 2.2 7.3 0.8 14.4 3.7 10.9 5.1 0 61.5 -119.3 0z"/>
<path fill="#c4c4ff" d="M307 579.1l7.1-2.9 7.2-1.9 122.9-0.2 28.9 1.6 21.7 3.9 7.2 1.9 7.2 2.6 7.3 4.1 4.3 3.2 -4.3 2.3 -7.3 2.9 -28.9 4.5 -14.4 1.3 -7.3-1.5 -7.2-2.5 -7.2-1.7 -122.9-3.4 -14.5-1.9zM104.5 616l0-2 28.9 2.4 14.5 1.8 36.1 1.4 14.5 1.7 14.4 3.9 7.6 3.1 0 61.5 -116 0z"/>
<path fill="#b2b2ff" d="M317 579.1l4.3-1.5 122.9-0.2 28.9 2.1 14.4 2.7 7.3 2 7.2 2.8 8.4 4.4 -8.4 3 -21.7 4.3 -14.4 1.2 -7.3-1.2 -7.2-2.1 -7.2-1.4 -122.9-2.9 -7.3-0.9zM104.5 628.3l0-12.3 21.7 1.2 21.7 2.7 36.1 1.2 14.5 1.9 14.4 4.1 2.9 1.2 0 61.5 -111.3 0z"/>
<path fill="#a2a2ff" d="M326.5 591.4l2-0.8 86.8-5.2 21.7-2.7 21.6-0.6 14.5 0.8 7.2 1.2 7.2 2 7.3 2.7 5.4 2.6 -12.7 3.5 -7.2 1.5 -14.4 1.1 -7.3-0.9 -7.2-1.8 -7.2-1.2zM104.5 628.3l0-10.7 21.7 1.1 14.4 2.3 43.4 1.5 7.2 0.9 14.5 3.3 4.8 1.6 0 61.5 -106 0z"/>
<path fill="#9090ff" d="M432.5 591.4l18.9-4.5 7.2-1 14.5 0.4 7.2 1.2 10.5 3.9 -10.5 2.6 -7.2 0.8 -7.2 0.2 -7.3-0.6 -14.4-2.3zM104.5 628.3l0-9 21.7 0.9 14.4 2.6 43.4 1.1 7.2 1 13.3 3.4 0 61.5 -100 0z"/>
<path fill="#8080ff" d="M452.5 591.4l6.1-1.6 14.5-0.1 8.5 1.7 -8.5 1.1 -14.5-0.3zM104.5 628.3l0-7.4 21.7 0.8 14.4 3 43.4 0.7 7.2 1.1 6.8 1.8 0 61.5 -93.5 0z"/>
<path fill="#6e6eff" d="M104.5 628.3l0-5.7 21.7 0.5 14.4 3.4 43.4 0.3 8 1.5 0 61.5 -87.5 0z"/>
<path fill="#5d5dff" d="M104.5 628.3l0-4.1 21.7 0.4 14.4 3.7 43.4 0 0 61.5 -79.5 0z"/>
<path fill="#4c4cff" d="M104.5 628.3l0-2.5 21.7 0.3 7.2 2.4 2.5 12.1 0 49.2 -31.4 0z"/>
<path fill="#3b3bff" d="M104.5 628.3l0-0.8 21.7 0 2.4 0.8 0.6 12.3 0 49.2 -24.7 0z"/>
</g>
<path d="M104.5 411.5C156.9 411.5 299.8 411.7 419.0 411.5C538.2 411.3 753.2 410.7 820.0 410.5M104.5 436.6C151.8 436.6 341.1 436.6 388.4 436.6M468.2 436.6C526.8 436.6 761.4 436.6 820.0 436.6M104.5 481.0C133.3 480.5 219.1 479.3 277.5 477.8C335.9 476.3 410.6 473.3 455.0 472.0C499.4 470.7 521.5 470.0 543.7 469.9C565.9 469.8 565.8 470.1 588.0 471.2C610.2 472.3 638.1 474.9 676.8 476.5C715.5 478.1 796.1 480.2 820.0 481.0M104.5 565.2C133.3 565.6 233.9 566.8 277.5 567.5C321.1 568.2 340.1 568.2 366.0 569.7C391.9 571.2 416.4 574.8 432.7 576.3C449.0 577.8 458.6 578.2 463.8 578.6C469.7 577.8 478.6 576.2 499.3 574.0C520.0 571.8 564.4 567.4 588.0 565.2C611.6 563.0 632.2 561.5 641.0 560.8M738.9 549.7C752.4 548.6 806.5 544.1 820.0 543.0M104.5 594.6C116.1 595.4 150.1 597.5 174.0 599.6C197.9 601.7 223.3 604.5 247.9 607.0C272.5 609.5 301.3 611.5 321.8 614.4C342.3 617.3 359.5 621.9 371.0 624.2C382.5 626.5 382.6 625.1 390.8 628.0C399.0 630.9 411.4 637.8 420.4 641.5C429.4 645.2 438.0 648.4 445.0 650.0C452.0 651.6 459.4 651.1 462.3 651.3C466.8 649.7 476.6 645.4 489.3 641.5C502.0 637.6 522.2 632.3 538.6 628.0C555.0 623.7 571.5 619.9 587.9 615.6C604.3 611.3 620.8 605.7 637.2 602.0C653.6 598.3 670.1 596.1 686.5 593.4C702.9 590.7 719.4 588.2 735.8 586.0C752.2 583.8 771.0 581.3 785.0 579.9C799.0 578.5 814.2 577.8 820.0 577.4M104.5 623.0C109.9 622.2 123.4 619.2 137.0 618.0C150.6 616.8 175.6 615.6 186.3 615.6C197.0 615.6 198.6 617.6 201.0 618.0M287.3 648.9C291.0 651.4 301.7 658.8 309.5 663.7C317.3 668.6 327.4 674.0 334.1 678.4C340.9 682.8 347.4 688.1 350.0 690.0M149.3 688.3C155.5 687.2 177.3 682.4 186.3 682.0C195.3 681.6 199.8 684.5 203.5 685.8C207.2 687.1 207.6 689.3 208.4 690.0M526.3 690.0C532.4 686.8 550.9 677.9 563.2 671.0C575.5 664.1 585.8 655.1 600.2 648.9C614.6 642.7 641.3 636.1 649.5 633.6M744.4 616.8C757.0 616.0 807.4 612.7 820.0 611.9M612.5 690.0C618.7 686.4 637.2 673.8 649.5 668.6C661.8 663.4 672.1 661.8 686.5 658.7C700.9 655.6 713.5 651.5 735.8 650.0C758.0 648.5 806.0 650.0 820.0 650.0M730.8 688.5C735.7 688.5 755.5 688.5 760.4 688.5" fill="none" stroke="#000" stroke-width="2.6" stroke-linejoin="round" stroke-linecap="butt"/>
<path d="M104.5 599.6C109.9 600.0 124.6 600.8 137.0 602.0C149.4 603.2 171.9 606.2 178.9 607.0M184.3 567.5C186.7 569.1 188.0 574.5 198.6 577.4C209.2 580.3 231.5 581.5 247.9 584.8C264.3 588.1 282.8 593.3 297.2 597.0C311.6 600.7 321.7 604.3 334.0 607.0C346.3 609.7 356.6 611.2 371.0 613.0C385.4 614.8 408.1 615.3 420.4 618.0C432.7 620.7 438.0 624.3 445.0 629.0C452.0 633.7 457.8 639.8 462.3 646.4C466.8 653.0 467.5 662.0 472.0 668.6C476.5 675.2 485.6 682.2 489.3 685.8C493.0 689.4 493.5 689.3 494.3 690.0M277.5 615.6C284.9 617.7 308.2 624.5 321.8 628.0C335.4 631.5 350.6 633.9 358.8 636.5C367.0 639.1 364.8 640.6 371.0 643.9C377.2 647.2 387.6 652.2 395.8 656.3C404.0 660.4 414.2 664.5 420.4 668.6C426.5 672.7 429.4 677.3 432.7 680.9C436.0 684.5 438.8 688.5 440.0 690.0M104.5 614.4C108.7 616.5 120.1 622.2 129.6 626.7C139.1 631.2 152.1 637.8 161.6 641.5C171.1 645.2 176.0 647.6 186.3 648.9C196.6 650.2 206.8 649.4 223.2 649.4C239.6 649.4 268.4 648.2 284.8 648.9C301.2 649.6 311.5 651.3 321.8 653.8C332.1 656.3 339.1 660.0 346.5 663.7C353.9 667.4 360.1 671.6 366.2 676.0C372.3 680.4 380.5 687.7 383.4 690.0M104.5 648.9C109.1 650.5 122.5 655.4 132.0 658.7C141.5 662.0 156.7 667.0 161.6 668.6M260.2 674.7C264.3 674.9 276.6 674.5 284.8 676.0C293.0 677.5 303.3 681.1 309.5 683.4C315.7 685.7 319.8 688.9 321.8 690.0M104.5 671.0C107.8 672.6 117.9 677.7 124.6 680.9C131.2 684.1 141.1 688.5 144.4 690.0M553.4 690.0C553.8 686.4 554.2 675.5 555.8 668.6C557.4 661.8 559.5 654.2 563.2 648.9C566.9 643.5 571.8 640.0 578.0 636.5C584.2 633.0 590.3 630.0 600.2 628.0C610.1 626.0 631.0 624.8 637.2 624.2M607.6 570.0C614.7 572.8 632.8 581.0 650.0 587.0C667.2 593.0 694.7 601.0 711.0 606.0C727.3 611.0 737.7 612.7 748.0 617.0C758.3 621.3 765.7 626.1 772.7 631.6C779.7 637.1 784.6 643.6 790.0 650.0C795.4 656.4 800.8 663.3 805.0 670.0C809.2 676.7 813.3 686.7 815.0 690.0M612.5 690.0C615.8 687.2 626.0 677.1 632.2 673.5C638.4 669.9 640.5 669.0 649.5 668.6C658.5 668.2 674.2 669.4 686.5 671.0C698.8 672.6 713.1 675.9 723.4 678.4C733.6 680.9 742.7 683.9 748.0 685.8C753.3 687.7 753.8 689.3 755.0 690.0M748.0 579.9C754.2 582.4 773.0 589.7 785.0 594.6C797.0 599.5 814.2 606.9 820.0 609.4M728.4 641.5C733.7 643.5 751.8 648.5 760.4 653.8C769.0 659.1 776.0 667.5 780.1 673.5C784.2 679.5 784.2 687.2 785.0 690.0M104.5 450.8C117.1 450.8 167.3 450.8 179.9 450.8M286.3 438.8C305.2 438.4 347.7 437.1 400.0 436.5C452.3 435.9 530.0 435.6 600.0 435.5C670.0 435.4 783.3 435.7 820.0 435.7M104.5 481.0C133.3 480.6 219.1 480.2 277.5 478.7C335.9 477.2 410.6 473.9 455.0 472.0C499.4 470.1 521.5 468.0 543.7 467.6C565.9 467.2 576.9 468.0 588.0 469.9C599.1 471.8 602.8 475.0 610.2 478.7C617.6 482.4 622.8 488.3 632.4 492.0C642.0 495.7 653.1 499.5 667.9 501.0C682.7 502.5 704.7 502.1 721.0 501.0C737.3 499.9 749.0 496.2 765.5 494.3C782.0 492.4 810.9 490.6 820.0 489.8M800.0 396.7C803.3 396.7 816.7 396.7 820.0 396.7M735.0 549.5C749.2 548.5 805.8 544.5 820.0 543.5M184.3 567.5C199.8 567.5 247.2 568.2 277.5 567.5C307.8 566.8 344.0 565.2 366.2 563.0C388.4 560.8 395.8 557.2 410.6 554.2C425.4 551.2 443.9 548.3 455.0 545.3C466.1 542.3 469.6 539.4 477.0 536.4C484.4 533.4 488.2 529.7 499.3 527.5C510.4 525.3 525.2 523.8 543.7 523.0C562.2 522.2 593.9 521.9 610.2 523.0C626.5 524.1 634.3 527.2 641.3 529.8C648.3 532.4 653.9 535.6 652.4 538.6C650.9 541.6 639.4 544.5 632.4 547.5C625.4 550.5 614.6 553.1 610.2 556.4C605.8 559.7 604.3 563.8 605.8 567.5C607.3 571.2 610.9 575.3 619.0 578.6C627.1 581.9 641.3 584.7 654.6 587.4C667.9 590.1 691.6 593.7 699.0 595.0" fill="none" stroke="#1c7a1c" stroke-width="2.6" stroke-dasharray="7.6 3.3" stroke-linejoin="round"/>
<path d="M133.4 443.7L169.4 422.1M169.4 422.1L182.6 433.8M164.9 424.8L178.1 436.5M205.6 443.7L243.0 424.5M243.0 424.5L255.3 437.1M238.3 426.9L250.6 439.5M277.8 443.7L317.5 430.0M317.5 430.0L327.9 444.2M312.5 431.7L323.0 445.9M350.0 443.7L390.9 434.1M390.9 434.1L399.8 449.3M385.8 435.3L394.7 450.5M422.2 443.7L463.0 433.8M463.0 433.8L472.1 448.8M457.9 435.0L467.0 450.1M494.4 443.7L536.0 437.7M536.0 437.7L543.6 453.6M530.8 438.5L538.4 454.4M566.6 443.7L608.2 437.8M608.2 437.8L615.7 453.7M603.0 438.6L610.5 454.5M638.8 443.7L680.6 439.6M680.6 439.6L687.5 455.8M675.4 440.1L682.2 456.4M711.0 443.7L753.0 442.4M753.0 442.4L758.7 459.0M747.7 442.6L750.6 450.9M783.2 443.7L825.2 443.7M825.2 443.7L830.5 460.5M820.0 443.7L825.2 460.5M133.4 517.5L122.8 476.9M122.8 476.9L137.7 467.6M124.1 482.0L139.0 472.7M125.4 487.1L140.3 477.7M126.7 492.1L134.2 487.5M205.6 517.5L195.9 476.7M195.9 476.7L211.0 467.7M197.1 481.8L212.2 472.8M198.3 486.9L213.4 477.9M199.5 492.0L207.1 487.5M277.8 517.5L269.1 476.4M269.1 476.4L284.5 467.8M270.2 481.6L285.6 473.0M271.3 486.7L286.6 478.1M272.4 491.9L280.0 487.6M350.0 517.5L342.5 476.2M342.5 476.2L358.1 468.0M343.4 481.4L359.0 473.2M344.4 486.5L360.0 478.4M422.2 517.5L415.6 476.1M415.6 476.1L431.4 468.2M416.4 481.2L432.2 473.4M417.3 486.4L425.1 482.5M494.4 517.5L490.6 475.7M490.6 475.7L506.9 469.0M491.1 480.9L499.2 477.6M566.6 517.5L565.6 475.6M565.6 475.6L582.3 469.9M565.8 480.8L574.1 478.0M638.8 517.5L636.8 475.6M636.8 475.6L653.3 469.5M711.0 517.5L706.0 475.8M706.0 475.8L722.1 468.6M783.2 517.5L774.4 476.5M774.4 476.5L789.7 467.8M133.4 579.1L107.4 546.1M107.4 546.1L117.4 531.6M110.7 550.2L120.6 535.7M205.6 579.1L180.3 545.5M180.3 545.5L190.5 531.2M183.5 549.7L193.7 535.4M186.6 553.9L191.7 546.8M277.8 579.1L252.5 545.5M252.5 545.5L262.7 531.2M255.7 549.7L265.9 535.4M258.8 553.9L263.9 546.8M350.0 579.1L326.0 544.6M326.0 544.6L336.8 530.7M329.0 548.9L339.8 535.0M332.0 553.2L337.4 546.2M422.2 579.1L401.8 542.4M401.8 542.4L413.9 529.6M404.3 546.9L416.5 534.2M494.4 579.1L476.1 541.3M476.1 541.3L488.9 529.2M478.4 546.0L484.8 540.0M566.6 579.1L550.5 540.3M550.5 540.3L564.0 529.0M638.8 579.1L623.4 540.0M626.3 547.3L633.1 541.8M711.0 579.1L696.8 539.5M699.5 546.9L706.5 541.6M783.2 579.1L752.7 550.2M758.4 555.6L762.2 547.7M133.4 616.0L163.3 645.5M163.3 645.5L155.3 661.1M205.6 616.0L233.7 647.2M233.7 647.2L224.7 662.3M277.8 616.0L298.2 652.7M298.2 652.7L286.0 665.4M350.0 616.0L336.0 655.6M338.6 648.2L329.9 647.8M422.2 616.0L380.2 614.2M388.1 614.6L385.8 606.1M494.4 616.0L459.3 593.0M465.8 597.3L468.2 588.8M566.6 616.0L540.0 583.5M545.0 589.6L549.8 582.2M638.8 616.0L621.4 577.8M624.6 584.9L631.2 579.1M711.0 616.0L696.0 576.7M698.8 584.1L705.7 578.6M133.4 652.9L166.2 679.1M166.2 679.1L159.8 695.5M205.6 652.9L238.2 679.4M238.2 679.4L231.7 695.7M277.8 652.9L304.3 685.4M304.3 685.4L294.6 700.1M350.0 652.9L362.3 693.1M360.0 685.5L352.7 690.5M494.4 652.9L456.9 634.0M463.9 637.6L465.3 628.9M566.6 652.9L542.7 618.4M547.2 624.8L552.6 617.9M638.8 652.9L629.1 612.0M629.1 612.0L644.3 603.0M133.4 689.8L166.5 715.7M166.5 715.7L160.3 732.1M205.6 689.8L238.4 716.0M238.4 716.0L232.0 732.4M277.8 689.8L304.4 722.3M304.4 722.3L294.7 737.0M350.0 689.8L362.0 730.1M359.7 722.5L352.4 727.4M494.4 689.8L456.9 670.9M463.9 674.5L465.3 665.8M566.6 689.8L543.3 654.9M547.6 661.4L553.2 654.6M638.8 689.8L627.4 649.4M627.4 649.4L642.1 639.8" fill="none" stroke="#0000c8" stroke-width="2" stroke-linejoin="miter"/>
<circle cx="783.2" cy="616.0" r="6.5" fill="none" stroke="#0000c8" stroke-width="2"/>
<circle cx="422.2" cy="652.9" r="6.5" fill="none" stroke="#0000c8" stroke-width="2"/>
<circle cx="711.0" cy="652.9" r="6.5" fill="none" stroke="#0000c8" stroke-width="2"/>
<circle cx="783.2" cy="652.9" r="6.5" fill="none" stroke="#0000c8" stroke-width="2"/>
<circle cx="422.2" cy="689.8" r="6.5" fill="none" stroke="#0000c8" stroke-width="2"/>
<circle cx="711.0" cy="689.8" r="6.5" fill="none" stroke="#0000c8" stroke-width="2"/>
<circle cx="783.2" cy="689.8" r="6.5" fill="none" stroke="#0000c8" stroke-width="2"/>
<path d="M462.3 394.5V689.8" stroke="#f01818" stroke-width="1.4" fill="none"/>
</g>
<rect x="104.5" y="394.5" width="715.5" height="295.29999999999995" fill="none" stroke="#000" stroke-width="1.3"/>
<path d="M97.7 394.50H104.5" stroke="#000" stroke-width="1.3"/>
<text x="92.3" y="403.5" text-anchor="end" font-size="22.4">400</text>
<path d="M97.7 492.93H104.5" stroke="#000" stroke-width="1.3"/>
<text x="92.3" y="501.9" text-anchor="end" font-size="22.4">600</text>
<path d="M97.7 591.37H104.5" stroke="#000" stroke-width="1.3"/>
<text x="92.3" y="600.4" text-anchor="end" font-size="22.4">800</text>
<path d="M97.7 689.80H104.5" stroke="#000" stroke-width="1.3"/>
<text x="92.3" y="698.8" text-anchor="end" font-size="22.4">1000</text>
<path d="M104.50 689.8V696.5999999999999" stroke="#000" stroke-width="1.3"/>
<path d="M205.30 689.8V696.5999999999999" stroke="#000" stroke-width="1.3"/>
<path d="M313.80 689.8V696.5999999999999" stroke="#000" stroke-width="1.3"/>
<path d="M422.30 689.8V696.5999999999999" stroke="#000" stroke-width="1.3"/>
<path d="M530.80 689.8V696.5999999999999" stroke="#000" stroke-width="1.3"/>
<path d="M639.30 689.8V696.5999999999999" stroke="#000" stroke-width="1.3"/>
<path d="M747.80 689.8V696.5999999999999" stroke="#000" stroke-width="1.3"/>
<path d="M820.00 689.8V696.5999999999999" stroke="#000" stroke-width="1.3"/>
<text x="204.1" y="718.1" text-anchor="middle" font-size="20">35.63°N</text>
<text x="204.1" y="743.6" text-anchor="middle" font-size="20">50.54°E</text>
<text x="312.6" y="718.1" text-anchor="middle" font-size="20">35.68°N</text>
<text x="312.6" y="743.6" text-anchor="middle" font-size="20">50.84°E</text>
<text x="421.1" y="718.1" text-anchor="middle" font-size="20">35.73°N</text>
<text x="421.1" y="743.6" text-anchor="middle" font-size="20">51.14°E</text>
<text x="529.6" y="718.1" text-anchor="middle" font-size="20">35.79°N</text>
<text x="529.6" y="743.6" text-anchor="middle" font-size="20">51.44°E</text>
<text x="638.1" y="718.1" text-anchor="middle" font-size="20">35.84°N</text>
<text x="638.1" y="743.6" text-anchor="middle" font-size="20">51.74°E</text>
<text x="746.6" y="718.1" text-anchor="middle" font-size="20">35.89°N</text>
<text x="746.6" y="743.6" text-anchor="middle" font-size="20">52.04°E</text>
<text x="73.6" y="380.3" font-size="22.3" font-weight="bold">(c)</text>
<text transform="translate(19.6 542.1) rotate(-90)" text-anchor="middle" font-size="24">Pressure (hPa)</text>
<rect x="111.2" y="392.8" width="309.3" height="37.2" rx="5.5" ry="5.5" fill="#fff" stroke="#000" stroke-width="1.4"/>
<text x="118.9" y="418.8" font-size="23.8" font-weight="bold">22:00 UTC, Angle: 80°</text>
<g clip-path="url(#clipc)"><text transform="translate(421.6 434.4) rotate(0)" text-anchor="middle" font-size="22.5" style="fill:#000;stroke:#000" dy="8.2">330</text>
<text transform="translate(690 553.3) rotate(17)" text-anchor="middle" font-size="22.5" style="fill:#000;stroke:#000" dy="8.2">320</text>
<text transform="translate(247.9 628) rotate(-30)" text-anchor="middle" font-size="22.5" style="fill:#000;stroke:#000" dy="8.2">310</text>
<text transform="translate(696.3 623) rotate(17)" text-anchor="middle" font-size="22.5" style="fill:#000;stroke:#000" dy="8.2">310</text>
<text transform="translate(233 445.5) rotate(8)" text-anchor="middle" font-size="22.5" style="fill:#1f7a1f;stroke:#1f7a1f" dy="8.2">340</text>
<text transform="translate(226.9 609.4) rotate(-5)" text-anchor="middle" font-size="22.5" style="fill:#1f7a1f;stroke:#1f7a1f" dy="8.2">350</text>
<text transform="translate(213.4 676) rotate(0)" text-anchor="middle" font-size="22.5" style="fill:#1f7a1f;stroke:#1f7a1f" dy="8.2">360</text>
<text transform="translate(681.5 635.3) rotate(-28)" text-anchor="middle" font-size="22.5" style="fill:#1f7a1f;stroke:#1f7a1f" dy="8.2">340</text>
<text transform="translate(716.7 572) rotate(-35)" text-anchor="middle" font-size="22.5" style="fill:#1f7a1f;stroke:#1f7a1f" dy="8.2">350</text>
<text transform="translate(763 394.5) rotate(5)" text-anchor="middle" font-size="22.5" style="fill:#1f7a1f;stroke:#1f7a1f" dy="8.2">340</text></g>
</g>
<g id="panel-d">
<g clip-path="url(#clipd)">
<rect x="891.5" y="394.5" width="716.0" height="295.29999999999995" fill="#fffcfc"/>
<g fill-rule="evenodd" stroke="none">
<path fill="#fff7f7" d="M891.5 394.5l716 0 0 295.3 -539.8 0 -0.3-61.5 -2.3-4.8 -5.7-7.5 -1.6-2.8 -7.2-4.3 -43.4 0 -7.2 0.5 -7.2 1.2 -29 0.5 -5.8 4.9 -5.8 12.3 1.1 12.3 0 49.2 -61.8 0 0-196.8 86.8 15.7 57.8 7.7 10.6 1.1 3.9 4.3 7.2 14.4 7.3 3 7.2 1.2 28.9 2.2 14.5 6.4 9.3 5.5 5.2 6.4 3.1 5.9 -10.4 1.5 -7.2 2.2 -7.2 7.4 -0.6 1.2 0 12.3 7.8 7.1 7.2 2.7 7.3 0.9 115.7 0.8 21.7-1.6 14.4-2.3 7.3-1.6 7.2-2.7 5.5-3.3 1.2-12.3 0.5-1.7 7.3-10 1-0.6 6.2-10.3 7.2-7.9 7.9-6.4 13.8-10.1 7.3-4.3 7.2-2.4 14.5-2.8 102.4-5.1 0-49.2 -22.9-6.4 -36.1-6.9 -86.8-9.7 -29.4-1.6 -6.8-2.3 -7.2-3.7 -7.3-2.6 -14.4-3.5 -14.5-2.3 -361.6 2.1z"/>
<path fill="#fff2f2" d="M1362.5 542.1l6.3-3.8 7.3-3.1 14.4-4.3 14.5-2.7 94-6.6 108.5-1.9 0 170 -537 0 0-49.2 -0.7-12.3 -4.7-9.8 -1.9-2.5 -5.4-9.1 -7.2-1.5 -50.6 0.2 -28.9 0.5 -7.3-1.7 -1.8-0.7 1.8-12.3 137.4 0 7.3 10.1 5.5 2.2 139.1 0.4 21.7-1.7 14.5-2.6 7.2-2.1 10.5-6.3 2.5-12.3 1.5-2.3 7.2-6.3 8.9-3.7 5.6-5.5 7.2-4.6 5.1-2.2zM891.5 628.3l0-6.2 50.6 0.1 3.3 6.1 2.6 12.3 0 49.2 -56.5 0z"/>
<path fill="#ffeded" d="M1387.5 542.1l10.3-3.8 21.7-4.3 72.3-7.3 115.7-2.5 0 165.5 -534.5 0 0-49.2 -0.8-12.3 0.1-6.3 0.7-6 6.5-5.6 7.3-2.2 7.2-3.2 7.2-0.7 151.9 0.9 28.9-1.8 14.5-2.7 7.2-3.7 8.3-5.6 3.8-12.3 2.4-2.4 7.2-5.1 7.3-2.9 8.7-1.9 5.7-3.8 7.3-3.5 7.2-2.7 7.6-2.3 6.9-8.2 7.2-3.2z"/>
<path fill="#ffe8e8" d="M1416.7 542.1l31.7-5.8 50.6-5.5 108.5-2.2 0 161.1 -532.5 0 0-49.2 -0.7-12.3 5.2-10 7.6-2.3 6.9-8.5 7.2-1.9 166.4 0.6 21.7-1.5 7.4-1 7-3.3 7.3-4.3 6-4.7 4.5-12.3 3.9-3.1 7.3-4.1 7.2-2.3 15.8-2.8 5.9-2.9 7.2-2.9 14.5-12.2 7.2-3 7.3-1.7z"/>
<path fill="#ffe3e3" d="M1450 542.1l49-6.8 108.5-2.2 0 156.6 -530.5 0 0-49.2 -0.7-12.3 3.2-6.2 7.3-4.2 2.4-1.9 4.8-5.9 7.2-3.2 137.5 0.2 36.1 0.5 21.7-1.4 7.6-2.5 6.9-3.8 7.2-5.1 3.7-3.4 4.9-12.3 5.9-4 7.2-3 7.2-1.9 22.2-3.4 6.8-6.5 7.2-5.8 7.2-4.5 7.3-2.6 14.4-2.6z"/>
<path fill="#ffdede" d="M1483.3 542.1l15.7-2.2 108.5-2.3 0 152.1 -528.5 0 0-49.2 -0.7-12.3 1.2-2.3 11.8-10 2.7-3.3 7.2-4.5 14.5-1.5 123 1.3 36.1 1.3 21.7-0.7 7.2-1.7 7.6-3.2 6.9-4.4 8.6-7.9 4.8-12.3 8.3-4.4 7.2-2.4 21.7-3.7 6.1-1.8 8.4-7.7 7.2-5 7.3-3.5 7.2-2 14.5-2.5z"/>
<path fill="#ffd9d9" d="M1396.7 554.5l8.3-3.2 14.5-3.2 79.5-5.3 108.5-0.6 0 147.6 -526.9 0 0-49.2 -0.4-12.3 6.6-7 14.4-11.8 7.3-1.3 43.4-1.9 122.9 4.8 21.7 0 7.2-1.2 7.3-2 7.4-4.2 7-5.4 6.2-6.9 4.8-12.3 3.5-1.9 7.2-2.7 21.7-4.2 11.2-3.5 3.3-3.1 7.2-5.5z"/>
<path fill="#ffd4d4" d="M1403.8 554.5l8.4-2.7 14.5-2.9 72.3-4.9 108.5-0.8 0 146.6 -525.4 0 0-49.2 -0.3-12.3 5-5.3 14.4-12.2 7.3-1.7 14.4-1.5 57.9-0.2 79.5 4.1 14.5 1.3 21.7 0.7 14.5-1.6 7.2-2 7.2-6.2 7.3-7.1 3.7-5.2 4.9-12.3 5.8-2.5 21.7-4.6 16.2-5.2 5.5-4.5 7.3-4.8z"/>
<path fill="#ffcfcf" d="M1411.2 554.5l15.5-3.8 72.3-5.4 108.5-1.1 0 145.6 -289.3 0 0-73.8 7.2-2.8 14.5-19.4 1.3-2.4 5.1-12.3 15.3-4 7.2-1.4 14.5-4.5 7.2-2.9 7.3-5.2zM1096.6 616l4.6-3.9 7.3-2.1 14.4-1.8 29-0.9 86.8 3.6 36.1 3.6 21.7 1.4 7.2 0.1 0 73.8 -220.1 0 -0.2-61.5 3.4-3.6z"/>
<path fill="#ffc9c9" d="M1418.8 554.5l7.9-2 72.3-6 108.5-1.3 0 144.6 -273.5 0 0-73.8 5.1-12.3 7.1-12.3 0.9-2.2 6-10.1 23-5.7 18.9-6.6 2.8-2zM1098.2 616l3-2.6 7.3-2.4 14.4-2.2 29-1 86.8 4.1 34.9 4.1 1.2 1.5 7.2 6.7 2.5 4.1 2.5 12.3 0 49.2 -201.9 0 -0.1-61.5z"/>
<path fill="#ffc4c4" d="M1426.2 554.5l72.8-6.8 108.5-1.4 0 143.5 -261.9 0 0-73.8 0.6-12.3 8.2-15.9 5.9-8.7 15.8-4 14.4-4.6 10.2-3.7zM1099.7 616l1.5-1.3 7.3-2.8 7.2-1.5 14.5-1.5 21.7-0.6 79.5 3.9 32.6 3.8 3.6 4 5.8 8.3 1.4 6.2 2.2 6.1 0 49.2 -190.3 0 0.1-61.7z"/>
<path fill="#ffbfbf" d="M1437 554.5l62-5.5 108.5-1.7 0 142.5 -59.9 0 -5.2-20.9 -2.8 20.9 -185.3 0 0.1-86.2 4.1-12.2 8.9-12.3 15.9-4.3 24.2-8 19.2-9zM1101.2 616l7.3-3.2 7.2-1.6 7.2-1.2 29-1.2 79.5 4.3 24.6 2.9 4.3 3.4 6.9 8.9 2.1 12.3 0 49.2 -181.3 0 0.3-61.5z"/>
<path fill="#ffbaba" d="M1451 554.5l48-4.3 108.5-1.9 0 141.5 -49.5 0 -8.8-49.2 -6.8-2.2 -4.2 2.2 -3 23 -2.5 26.2 -170 0 0-86.1 2.1-12.3 9.6-12.3 16.1-4.7 14.5-4.9 10-2.7 11.7-5.5 7.2-2.6zM1103.4 616l5.1-2.2 7.2-1.9 7.2-1.2 29-1.5 79.5 4.8 16.7 2 5 3 7.2 6.6 2.1 2.7 0.6 12.3 0 49.2 -173.7 0 0-49.2 0.7-12.3 11.2-10.7z"/>
<path fill="#ffb5b5" d="M1465 554.5l34-3 108.5-2.2 0 140.5 -37.5 0 -5.9-33.2 -2.3-16 -19.4-7.2 -7.2 3 -6.6 4.2 -2.7 49.2 -155.2 0 0-86.1 0.4-12.3 10.2-12.3 41.2-12.3 4.2-2 7.2-2.5zM1105.6 616l2.9-1.3 7.2-2.1 7.2-1.3 29-1.6 79.5 5.2 8.9 1.1 5.6 2.9 7.2 4.9 4.5 4.5 -0.6 12.3 0 49.2 -166.3 0 0-49.2 1-12.3 9.5-9.1z"/>
<path fill="#ffb0b0" d="M1479 554.5l70.6-3.7 57.9-0.4 0 90.2 -36.2-2 -7.2-1.4 -21.7-8.8 -7.2 1.9 -7.3 2.9 -7.2 5.4 -1 2 -0.3 49.2 -141.5 0 0-98.4 10.2-12.3 31.4-9.6 11.6-2.7zM1107.8 616l7.9-2.6 7.2-1.5 29-1.7 36.1 1.8 44.7 4 6 2.8 7.2 4 6.9 5.5 -1.7 12.3 0 49.2 -159.1 0 0-49.2 1.4-12.3 7.8-7.4z"/>
<path fill="#ffabab" d="M1493 554.5l114.5-3.1 0 76.9 -7.2 2.3 -7.3 1.5 -21.7 2.1 -7.2-1.2 -14.5-5.9 -7.2-1.9 -14.5 1.4 -7.2 1.3 -0.5 0.4 -6.1 12.3 -0.1 49.2 -129.3 0 0-98.4 10.1-12.3 24.7-7.7 28.9-5.7zM1110 616l5.7-1.9 7.2-1.6 29-1.8 36.1 1.9 36.9 3.4 13.8 6.4 9 5.9 -2.3 12.3 0 49.2 -152.1 0 0-49.2 1.8-12.3 6.1-5.8z"/>
<path fill="#ffa6a6" d="M1512.5 554.5l95-2.1 0 67.7 -14.5 5.1 -14.4 3.5 -7.3 1.2 -8.3-1.6 -6.1-2.4 -7.3-2.2 -7.2-1.6 -21.7 0 -7.9 6.2 -3.8 12.3 0 49.2 -117.5 0 0.1-98.4 9.6-12.3 18.3-5.7 38.5-6.6 41-10.3zM1112.3 616l10.6-2.9 29-1.9 28.9 1.3 36.2 3.6 7.2 2.6 7.2 3.4 10.8 6.2 -1.9 12.3 0 49.2 -145.6 0 0-49.2 2.1-12.3 4.4-4.2 7.3-5.8z"/>
<path fill="#ffa1a1" d="M1537.5 554.5l70-1.1 0 60.1 -8.3 2.5 -13.4 5.1 -14.5 4 -7.2-0.8 -7.2-2.3 -14.5-3 -14.5-1.4 -7.2-1.2 -7.2 4.2 -7 7.7 -2.5 12.3 0 49.2 -105.9 0 0-61.5 0.5-36.9 8.9-12.3 12-3.8 52.5-8.5 27-6.8 28.9-4.5zM1114.6 616l8.3-2.3 29-2 28.9 1.4 28.9 3.3 7.3 2.3 7.2 3 12.3 6.6 -1.3 12.3 0 49.2 -139.2 0 0-49.2 2.5-12.3 10-8.6z"/>
<path fill="#ff9c9c" d="M1486 566.8l27.5-6.4 36.1-4.8 57.9-1.1 0 54.1 -36.2 11.4 -7.2-0.2 -14.5-2.9 -7.2-1.1 -21.7-5.5 -7.2 3.3 -7.3 6.8 -6 7.9 -1.2 12.3 0 49.2 -94.6 0 0-61.5 1.3-12.3 0-24.6 8.1-12.3 5.7-1.8 57.8-8.7zM1116.9 616l6-1.7 29-2.2 28.9 1.6 20 2.3 16.2 5.4 13.8 6.9 -0.7 12.3 0 49.2 -132.8 0 0-49.2 3-12.3 8.2-7.1z"/>
<path fill="#ff9696" d="M1499.9 566.8l20.8-4.8 28.9-4.1 57.9-1.4 0 47.2 -36.2 11.2 -7.2 0.3 -28.9-6.8 -14.5-4.2 -7.2 2.5 -7.3 5.4 -3.9 3.9 -3.3 4.1 -4.6 8.2 -0.4 12.3 0 49.2 -83.4 0 0-61.5 2.3-12.3 0-24.6 6.6-11.3 1.4-1 63.7-8.6 7.2-1.4zM1119.1 616l3.8-1 7.3-1.1 21.7-1.3 28.9 1.7 14.5 1.7 21.7 8 8.1 4.3 0.1 61.5 -126.5 0 0-49.2 3.2-12.3 6.6-5.7z"/>
<path fill="#ff9191" d="M1512.5 566.8l29.9-5.7 7.2-1 57.9-1.5 0 40.1 -36.2 11.3 -7.2 0.2 -25.5-6.5 -10.7-6.2 -7.2-4.9 -7.2 3.3 -7.3 7.9 -7.2 6 -5 6.2 -2.2 4 -2.8 8.3 0 61.5 -72.1 0 0-61.5 3.2-12.3 0.5-12.3 0-12.3 6.1-4.8 12.9-7.5 30.5-4 21.7-2 7.2-1.2 7.2-2.1zM1121.4 616l8.8-1.5 21.7-1.4 28.9 1.7 9.6 1.2 19.3 7.4 10.3 4.9 0.8 12.3 0 49.2 -120.8 0 0-49.2 3.6-12.3 4.9-4.3 7.2-4.9z"/>
<path fill="#ff8c8c" d="M1525 566.8l24.6-4.5 57.9-1.7 0 33.2 -14.5 3.5 -21.7 7.8 -7.2 0.1 -7.2-2.1 -14.5-7.4 -14.5-8.9 -7.2-3 -7.2 0.5 -7.3 3.1 -3.9 4 -3.3 4 -5 8.3 -2.2 2.4 -6.1 9.9 -1.7 12.3 0 61.5 -60.4 0 0-61.5 4.7-12.3 5.6-10.1 2.4-2.2 0-12.3 12.1-7.1 10.8-5.2 10.9-1.4 28.9-1 7.2-0.7 7.3-1.3 7.2-3.2zM1124.2 616l27.7-2.4 33.7 2.4 24.1 9.8 5.3 2.5 1.7 12.3 0 49.2 -115.3 0 0-49.2 3.8-12.3 3.3-2.9 7.2-5z"/>
<path fill="#ff8787" d="M1537.5 566.8l12.1-2.2 57.9-1.9 0 13.9 -7.2 1.1 -6.3 1.4 0 12.3 -15.4 4.1 -7.3 2.6 -7.2-0.3 -12.4-6.4 -2.1-2.7 -7.2-6.2 -7.1-3.4zM1452.7 591.4l10.2-5.4 7.2-2.6 7.2 1.8 7.3 4.7 1.1 1.5 -8.4 24.6 1.7 12.3 0 61.5 -48.3 0 0-61.5 6-12.3 4.5-5.4 11.5-6.9zM1127.8 616l24.1-1.9 28.9 1.9 7.2 2.5 22 9.8 2.5 12.3 0 49.2 -109.6 0 0-49.2 3.9-12.3 8.9-6.6 7.2-4z"/>
<path fill="#ff8282" d="M1551 566.8l56.5-2.1 0 7 -21.7 0.9 -7.2 1 -7.3 2.3 -7.2-0.8 -7.2-5.1zM1132.2 616l19.7-1.4 23.3 1.4 5.6 1.5 7.2 2.7 17 8.1 3.3 12.3 0 49.2 -103.8 0 0-49.2 4-12.4 7.2-5.3 7.2-3.9 7.3-2.6zM1437.9 628.3l3.3-6.2 7.2-6.1 14.5 0 7.2 1.7 3.9 10.6 0 61.5 -36.1 0z"/>
<path fill="#ff7d7d" d="M1138.5 616l13.4-0.9 15.8 0.9 5.9 0.9 7.2 2.1 7.2 2.9 12.7 6.4 3.5 12.3 0 49.2 -98.1 0 0-49.2 4-12.3 5.6-4.1 7.2-3.9 7.3-2.8z"/>
<path fill="#ff7878" d="M1144.8 616l7.1-0.5 7.4 0.5 14.3 2.3 7.2 2.3 7.2 3 9 4.7 3.5 12.3 0 49.2 -92.9 0 0-49.2 4.3-12.3 3.8-2.8 7.2-3.9 7.3-2.9z"/>
<path fill="#ff7373" d="M1113.6 628.3l2.1-1.6 7.2-3.9 7.3-2.9 7.2-1.7 14.5-2.1 14.4 1.9 7.3 1.6 7.2 2.5 7.2 3.2 5.6 3 3.6 12.3 0 49.2 -87.9 0 0-49.2z"/>
<path fill="#ff6e6e" d="M1115.3 628.3l7.6-4.2 7.3-3 7.2-1.9 14.5-1.9 14.4 1.8 7.3 1.9 7.2 2.7 9.6 4.6 3.6 12.3 0 49.2 -83 0 0-49.2z"/>
<path fill="#ff6969" d="M1117.6 628.3l5.3-2.9 7.3-3.1 7.2-2.1 14.5-1.8 14.4 1.8 7.3 2.1 7.2 2.9 6.4 3.1 3.8 12.3 0 49.2 -78.3 0 0-49.2 3-8.4z"/>
<path fill="#ff6363" d="M1120 628.3l10.2-4.9 7.2-2.1 14.5-1.7 14.4 1.8 7.3 2.3 10.4 4.6 4 12.3 0 49.2 -73.5 0 0-49.2 1.2-3.5z"/>
<path fill="#ff5e5e" d="M1122.4 628.3l7.8-3.7 7.2-2.3 14.5-1.6 7.2 0.6 7.2 1.2 7.3 2.5 7.2 3.3 4.2 12.3 0 49.2 -68.6 0 0-49.2z"/>
<path fill="#ff5959" d="M1124.9 628.3l5.3-2.5 7.2-2.5 14.5-1.4 7.2 0.5 7.2 1.2 11.5 4.7 4.2 12.3 0 49.2 -63.2 0 0-49.2z"/>
<path fill="#ff5454" d="M1127.4 628.3l10-4 14.5-1.2 7.2 0.4 7.2 1.2 8.6 3.6 4.2 12.3 0 49.2 -57.9 0 0-49.2z"/>
<path fill="#ff4f4f" d="M1129.9 628.3l7.5-3 14.5-1.1 7.2 0.3 7.2 1.3 5.8 2.5 4.1 12.3 0 49.2 -52.5 0 0-49.2z"/>
<path fill="#ff4a4a" d="M1132.5 628.3l4.9-1.9 7.2-0.8 14.5 0 7.2 1.3 3.2 1.4 3.9 12.3 0 49.2 -46.9 0 0-49.2z"/>
<path fill="#ff4545" d="M1135.1 628.3l2.3-0.9 7.2-0.7 14.5 0 7.8 1.6 3.9 12.3 0 49.2 -41.4 0 0-49.2z"/>
<path fill="#ff4040" d="M1138.8 628.3l5.8-0.6 14.5 0 2.8 0.6 4.4 6.4 1.9 5.9 0 49.2 -35.7 0 0-49.2 4.9-11.4z"/>
<path fill="#ff3b3b" d="M1135.8 640.6l1.6-3.9 7.2-4.3 14.5 0 5.6 8.2 0 49.2 -28.9 0z"/>
<path fill="#f6f6ff" d="M891.5 443.7l354.4-4.9 7.2 0.8 13.6 4.1 8.1 6.9 7.2 4.7 7.3 3.7 7.2 3.1 20.2 6.2 8.7 8.8 7.9 15.8 2.4 24.6 -17.5 13.1 -14.5 9.3 -6.2 2.3 -0.4 12.3 -1.1 12.3 0.8 12.3 0.2 12.3 -7.7 3.5 -14.5 3.5 -21.7 2.7 -101.2-0.5 -21.7-1.6 -7.3-1.8 -7.2-4.3 -1.7-1.5 0.3-12.3 1.4-1.5 7.2-4.2 7.3-1.8 36.5-4.8 3.3-12.3 -3.3-12.3 -14.8-4.3 -29-5.3 -21.7-2.6 -7.2-1.9 -7.2-2.8 -7.3-4.1 -4.5-3.7 -2.7-8 -7.2-9.8 -7.3-4.2 -7.8-2.6 -28.3-5.4 -21.7-2.8 -108.5-8.1zM971.1 616l14.4 0 7.3-0.7 7.2-2.2 7.2-0.6 43.4 0 4.6 3.5 2.6 2.8 7.2 9.5 -0.1 61.5 -106.9 0 0.1-61.5 5.7-10.3z"/>
<path fill="#e6e6ff" d="M1101.2 517.5l115.8-10.1 57.8-9 21.7-4.6 7.2 11.1 3.4 12.6 -3.4 2.4 -7.2 2.6 -94 0zM1202.5 566.8l72.3 0 7.2 4.8 2.5 7.5 4.8 5.9 2.2 6.4 -9.5 3.2 -7.2 1.8 -21.7 3.1 -79.5 0.2 -29-1.8 -14.4-2.1 -7.3-2.5 -2.9-1.9 2-12.3 8.2-3 21.7-3.3 28.9-2.6zM1007.2 616l43.4 0 7.2 7.7 3.5 4.6 0.7 12.3 0 49.2 -100 0 0.2-61.5 1.6-2.8 7.3-3.4 7.2 0 7.2-1.1 14.5-3.9z"/>
<path fill="#d4d4ff" d="M1138.5 579.1l13.4-2.1 50.6-2 43.4 0 7.2 0.4 14.5 2.5 2.2 1.2 5 1.5 7.2 6.1 3.3 4.7 -10.5 3.1 -21.7 3.4 -79.5 0.3 -21.7-1.6 -14.5-2.2 -7.2-1.7 -3.3-1.3 3.3-6.9zM971.1 628.3l7.2 0 7.2-2.4 7.3-3.1 7.2-1.2 7.2-0.7 7.2-2.2 29 0 7.2 1.1 7 8.5 1.5 12.3 0 49.2 -91.8 0 0-49.2z"/>
<path fill="#c4c4ff" d="M1136 591.4l1.4-1.5 7.2-5.1 7.3-2.8 21.7-1.3 72.3-0.1 7.2 0.4 7.2 1 7.3 1.7 7.2 3.7 3.9 4 -11.1 2.7 -14.5 2.2 -79.5 0.3 -21.7-2.1zM989.2 628.3l3.6-1.9 14.4-0.6 7.2-4.4 29 0 7.2 2.3 3.8 4.6 2 12.3 0 49.2 -81.7 0 0-49.2 3.6-3.6 7.2-2.4z"/>
<path fill="#b2b2ff" d="M1146 591.4l5.9-3.4 7.2-2 14.5-2.1 72.3-0.2 7.2 0.6 7.2 1.7 7.3 2.8 3.9 2.6 -18.4 3.4 -79.5 0.2 -21.7-2.5zM1009 628.3l5.4-4.1 29 0 7.2 3.3 0.6 0.8 2.7 12.3 0 49.2 -51.3 0 0-49.2 4.6-7.8z"/>
<path fill="#a2a2ff" d="M1157.2 591.4l9.1-2.8 7.3-1.5 72.3-0.3 7.2 0.8 10.1 3.8 -10.1 1.8 -72.3 0.5 -7.2-0.3zM1012.6 628.3l1.8-1.4 29 0 2.7 1.4 4.5 9.1 0.7 3.2 0 49.2 -43.6 0 0-49.2z"/>
<path fill="#9090ff" d="M1169.8 591.4l3.8-1 7.2-0.6 65.1 0 8.5 1.6 -8.5 0.7 -65.1 0zM1011.6 640.6l2.8-7.4 29 0 3.7 7.4 0 49.2 -35.5 0z"/>
</g>
<path d="M891.5 418.2C951.2 417.2 1181.9 413.5 1250.0 412.5C1318.1 411.5 1291.7 412.1 1300.0 412.0M891.5 436.8C935.9 436.8 1113.5 436.8 1157.9 436.8M1257.9 435.5C1316.2 435.4 1549.2 434.8 1607.5 434.6M891.5 482.3C920.8 481.5 1015.0 478.7 1067.0 477.3C1119.0 475.9 1165.4 474.7 1203.3 474.0C1241.2 473.3 1271.5 473.2 1294.3 473.2C1317.0 473.2 1317.1 473.2 1339.8 474.0C1362.5 474.8 1386.1 477.8 1430.7 477.8C1475.3 477.8 1578.0 474.6 1607.5 474.0M891.5 568.3C913.1 567.8 975.5 566.1 1021.4 565.0C1067.3 563.9 1142.7 562.4 1167.0 561.9M1267.0 562.8C1279.1 561.7 1312.5 559.4 1339.8 556.0C1367.1 552.6 1400.4 546.5 1430.7 542.3C1461.0 538.1 1492.2 533.6 1521.7 531.0C1551.2 528.4 1593.2 527.2 1607.5 526.4M891.5 615.6C895.8 615.0 902.5 613.0 917.0 612.0C931.5 611.0 956.0 609.6 978.6 609.4C1001.2 609.2 1032.0 609.7 1052.5 610.7C1073.0 611.7 1085.4 613.6 1101.8 615.6C1118.2 617.6 1137.5 620.9 1151.0 623.0C1164.5 625.1 1177.7 627.2 1183.0 628.0C1185.5 629.8 1195.5 637.2 1198.0 639.0C1202.5 640.0 1216.8 643.5 1225.0 645.2C1233.2 646.9 1243.7 648.5 1247.4 649.2C1251.6 646.3 1262.0 637.2 1272.3 631.6C1282.6 626.0 1294.9 620.5 1309.3 615.6C1323.7 610.7 1340.1 607.1 1358.6 602.0C1377.1 596.9 1401.7 589.3 1420.2 584.8C1438.7 580.3 1457.1 577.5 1469.5 575.0C1481.9 572.5 1481.9 572.4 1494.4 569.6C1506.9 566.8 1525.6 561.3 1544.4 558.3C1563.2 555.3 1597.0 552.5 1607.5 551.4M904.6 688.3C908.7 687.1 919.0 683.8 929.3 680.9C939.6 678.0 960.1 672.6 966.3 671.0M1062.4 663.7C1066.9 664.9 1080.9 667.3 1089.5 671.0C1098.1 674.7 1109.1 682.6 1114.0 685.8C1118.9 689.0 1118.2 689.3 1119.0 690.0M1282.0 690.0C1286.5 686.4 1298.6 675.9 1309.3 668.6C1320.0 661.3 1333.9 653.0 1346.2 646.4C1358.5 639.8 1370.9 634.1 1383.2 629.0C1395.5 623.9 1410.7 618.6 1420.2 615.6C1429.7 612.6 1436.7 611.5 1440.0 610.7M1531.0 592.2C1537.2 591.5 1555.2 588.5 1568.0 587.7C1580.8 587.0 1600.9 587.7 1607.5 587.7M1356.0 690.0C1360.5 686.4 1372.5 675.1 1383.2 668.6C1393.9 662.1 1405.8 656.4 1420.2 651.3C1434.6 646.2 1453.1 641.3 1469.5 637.8C1485.9 634.3 1502.3 632.7 1518.7 630.4C1535.1 628.1 1553.2 625.4 1568.0 624.2C1582.8 623.0 1600.9 623.2 1607.5 623.0M1432.5 685.8C1437.8 684.9 1459.2 681.3 1464.5 680.4M1563.0 680.9C1570.4 681.3 1600.1 683.0 1607.5 683.4" fill="none" stroke="#000" stroke-width="2.6" stroke-linejoin="round" stroke-linecap="butt"/>
<path d="M891.5 436.8C913.1 436.4 977.0 434.8 1021.4 434.6C1065.8 434.4 1121.5 435.0 1157.9 435.5C1194.3 436.0 1226.1 437.3 1239.7 437.7M1320.0 442.0C1323.3 442.3 1321.3 443.1 1339.8 443.7C1358.2 444.3 1400.4 446.9 1430.7 445.5C1461.0 444.1 1492.2 438.3 1521.7 435.5C1551.2 432.7 1593.2 429.8 1607.5 428.7M891.5 481.0C913.1 479.8 984.6 476.1 1021.4 474.0C1058.2 471.9 1085.9 468.6 1112.4 468.2C1138.9 467.8 1157.9 470.5 1180.6 471.9C1203.3 473.3 1222.3 477.5 1248.8 476.4C1275.3 475.2 1301.9 467.1 1339.8 465.0C1377.7 462.9 1431.6 463.7 1476.2 463.7C1520.8 463.7 1585.6 464.8 1607.5 465.0M1105.6 600.0C1106.0 598.3 1107.4 591.7 1107.8 590.0C1116.2 588.9 1142.0 586.3 1157.9 583.3C1173.8 580.3 1188.2 576.1 1203.3 571.9C1218.4 567.7 1233.6 563.6 1248.8 558.3C1264.0 553.0 1282.9 545.3 1294.3 540.0C1305.7 534.7 1305.6 529.9 1317.0 526.4C1328.4 522.9 1349.2 520.0 1362.5 518.7C1375.8 517.4 1390.9 518.7 1396.6 518.7C1397.3 522.2 1401.5 533.4 1401.1 540.0C1400.7 546.6 1396.2 553.7 1394.3 558.3C1392.4 562.9 1387.5 564.4 1389.8 567.4C1392.1 570.4 1401.2 572.7 1408.0 576.5C1414.8 580.3 1426.9 587.8 1430.7 590.0M1460.0 560.0C1466.5 558.6 1484.8 553.6 1498.9 551.4C1513.0 549.2 1526.3 547.3 1544.4 546.9C1562.5 546.5 1597.0 548.8 1607.5 549.2M1607.5 565.0C1604.6 563.9 1600.4 558.7 1589.9 558.3C1579.4 557.9 1556.6 560.5 1544.4 562.8C1532.2 565.1 1521.6 570.5 1517.0 572.0C1521.6 574.2 1529.3 582.5 1544.4 585.5C1559.5 588.5 1597.0 589.2 1607.5 590.0M891.5 607.0C897.8 607.2 916.0 607.8 929.3 608.2C942.6 608.6 964.2 609.2 971.2 609.4M891.5 630.4C897.8 630.0 918.9 627.0 929.3 628.0C939.7 629.0 947.8 633.9 954.0 636.5C960.2 639.1 964.2 642.7 966.3 643.9M891.5 656.3C897.8 655.9 918.9 653.0 929.3 653.8C939.7 654.6 946.6 657.9 954.0 661.2C961.4 664.5 968.4 668.7 973.7 673.5C979.0 678.3 984.0 687.2 986.0 690.0M1064.8 626.7C1071.0 627.7 1091.5 631.6 1101.8 632.8C1112.1 634.0 1118.3 633.4 1126.5 634.0C1134.7 634.6 1142.8 634.4 1151.0 636.5C1159.2 638.6 1167.5 642.7 1175.7 646.4C1183.9 650.1 1192.2 653.8 1200.4 658.7C1208.6 663.6 1219.7 670.8 1225.0 676.0C1230.3 681.2 1231.2 687.7 1232.4 690.0M986.0 626.7C990.9 628.1 1004.4 632.4 1015.5 635.3C1026.6 638.2 1040.2 641.6 1052.5 643.9C1064.8 646.2 1077.2 646.0 1089.5 648.9C1101.8 651.8 1116.2 656.7 1126.5 661.2C1136.8 665.7 1144.0 671.2 1151.0 676.0C1158.0 680.8 1165.5 687.7 1168.4 690.0M1037.7 668.6C1042.2 669.4 1056.2 671.5 1064.8 673.5C1073.4 675.5 1082.1 678.1 1089.5 680.9C1096.9 683.6 1105.9 688.5 1109.2 690.0M1105.6 600.0C1105.8 600.3 1103.2 600.0 1106.7 602.0C1110.2 604.0 1119.1 608.8 1126.5 611.9C1133.9 615.0 1140.8 617.8 1151.0 620.5C1161.2 623.2 1175.7 626.1 1188.0 628.0C1200.3 629.9 1215.5 630.0 1225.0 631.6C1234.5 633.2 1240.3 634.5 1244.8 637.8C1249.3 641.1 1250.0 646.2 1252.0 651.3C1254.0 656.4 1254.9 662.1 1257.0 668.6C1259.1 675.1 1263.2 686.4 1264.5 690.0M1304.3 690.0C1304.7 686.4 1305.6 676.3 1306.8 668.6C1308.0 660.9 1309.7 650.9 1311.7 643.9C1313.7 636.9 1314.9 631.0 1319.0 626.7C1323.1 622.4 1333.5 619.5 1336.4 618.0M1356.0 690.0C1357.7 687.2 1360.2 678.3 1366.0 673.5C1371.8 668.7 1381.6 664.5 1390.6 661.2C1399.6 657.9 1415.3 655.0 1420.2 653.8M1395.5 570.0C1398.0 572.0 1404.1 578.2 1410.3 582.3C1416.5 586.4 1426.8 589.7 1432.5 594.6C1438.2 599.5 1440.7 606.5 1444.8 611.9C1448.9 617.2 1451.7 621.4 1457.0 626.7C1462.3 632.0 1472.4 637.7 1476.9 643.9C1481.4 650.1 1482.2 658.0 1484.2 663.7C1486.2 669.5 1488.4 676.0 1489.2 678.4M1420.2 626.7C1422.2 629.2 1428.4 636.6 1432.5 641.5C1436.6 646.4 1439.9 650.1 1444.8 656.3C1449.7 662.4 1457.9 672.8 1462.0 678.4C1466.1 684.0 1468.2 688.1 1469.5 690.0M1501.5 594.6C1503.5 596.7 1511.3 600.8 1513.8 607.0C1516.3 613.2 1515.9 621.3 1516.3 631.6C1516.7 641.9 1516.3 662.4 1516.3 668.6M1518.7 570.0C1521.2 572.0 1527.3 578.2 1533.5 582.3C1539.7 586.4 1547.9 591.7 1555.7 594.6C1563.5 597.5 1571.8 599.2 1580.4 599.6C1589.0 600.0 1603.0 597.5 1607.5 597.1M1541.0 690.0C1541.4 686.4 1541.8 675.9 1543.4 668.6C1545.0 661.3 1546.7 651.5 1550.8 646.4C1554.9 641.3 1558.5 639.4 1568.0 637.8C1577.5 636.1 1600.9 636.7 1607.5 636.5M1560.6 683.4C1568.4 683.2 1599.7 682.2 1607.5 682.0" fill="none" stroke="#1c7a1c" stroke-width="2.6" stroke-dasharray="7.6 3.3" stroke-linejoin="round"/>
<path d="M920.4 443.7L961.5 435.2M961.5 435.2L970.1 450.6M956.4 436.3L964.9 451.7M992.6 443.7L1034.1 437.5M1034.1 437.5L1041.8 453.3M1028.9 438.3L1036.6 454.1M1064.8 443.7L1106.7 440.6M1106.7 440.6L1113.2 456.9M1101.4 441.0L1107.9 457.3M1137.0 443.7L1178.9 447.2M1178.9 447.2L1182.7 464.3M1173.6 446.7L1177.5 463.9M1209.2 443.7L1250.7 450.4M1250.7 450.4L1253.2 467.8M1245.5 449.6L1248.0 467.0M1281.4 443.7L1321.8 455.1M1321.8 455.1L1322.3 472.7M1316.8 453.7L1317.3 471.3M1353.6 443.7L1394.1 455.0M1394.1 455.0L1394.6 472.5M1389.0 453.6L1389.6 471.1M1425.8 443.7L1466.3 455.0M1466.3 455.0L1466.8 472.5M1461.2 453.6L1461.8 471.1M1498.0 443.7L1539.3 451.5M1539.3 451.5L1541.3 469.0M1534.1 450.5L1536.1 468.0M1570.2 443.7L1611.8 449.7M1611.8 449.7L1614.6 467.1M1606.6 449.0L1609.4 466.4M920.4 517.5L928.2 476.3M928.2 476.3L945.6 474.2M992.6 517.5L998.7 476.0M998.7 476.0L1016.1 473.2M997.9 481.2L1006.6 479.8M1064.8 517.5L1071.7 476.1M1071.7 476.1L1089.1 473.7M1070.8 481.3L1088.2 478.9M1070.0 486.5L1078.7 485.3M1137.0 517.5L1144.4 476.2M1144.4 476.2L1161.8 474.0M1143.4 481.4L1160.9 479.1M1142.5 486.5L1160.0 484.3M1209.2 517.5L1217.4 476.4M1217.4 476.4L1234.9 474.5M1216.4 481.5L1225.1 480.6M1281.4 517.5L1294.5 477.6M1294.5 477.6L1312.1 477.9M1292.9 482.6L1301.7 482.8M1353.6 517.5L1370.4 479.1M1370.4 479.1L1387.9 481.0M1368.3 483.9L1377.1 484.8M1425.8 517.5L1447.8 481.8M1447.8 481.8L1464.9 486.1M1498.0 517.5L1523.0 483.8M1523.0 483.8L1539.6 489.6M1570.2 517.5L1599.4 487.3M1599.4 487.3L1615.1 495.2M920.4 579.1L906.7 539.3M906.7 539.3L920.9 528.9M908.4 544.3L922.6 533.9M910.2 549.3L917.2 544.1M992.6 579.1L979.3 539.2M979.3 539.2L993.6 528.9M981.0 544.2L995.3 533.9M982.7 549.2L989.8 544.0M1064.8 579.1L1054.2 538.4M1054.2 538.4L1069.1 529.1M1055.5 543.5L1070.4 534.2M1056.8 548.6L1071.8 539.3M1137.0 579.1L1128.9 537.9M1128.9 537.9L1144.3 529.5M1129.9 543.0L1145.4 534.6M1130.9 548.2L1146.4 539.8M1209.2 579.1L1203.6 537.4M1203.6 537.4L1219.5 530.0M1204.3 542.6L1220.2 535.2M1281.4 579.1L1280.4 537.1M1280.4 537.1L1297.1 531.4M1280.6 542.3L1288.9 539.5M1353.6 579.1L1363.0 538.1M1361.3 545.8L1370.0 545.1M920.4 616.0L885.1 638.7M885.1 638.7L871.6 627.4M992.6 616.0L965.6 648.2M965.6 648.2L949.4 641.4M1064.8 616.0L1036.9 647.3M1036.9 647.3L1020.8 640.1M1137.0 616.0L1095.0 616.0M1095.0 616.0L1089.8 599.2M1209.2 616.0L1175.6 590.8M1181.9 595.5L1184.8 587.2M1281.4 616.0L1260.0 579.8M1264.0 586.6L1269.9 580.1M1353.6 616.0L1355.9 574.0M1355.5 581.9L1364.0 579.7M920.4 652.9L899.9 689.5M899.9 689.5L882.7 685.9M992.6 652.9L982.6 693.7M982.6 693.7L965.0 694.8M1064.8 652.9L1064.8 694.9M1064.8 694.9L1048.0 700.1M1137.0 652.9L1127.0 693.7M1127.0 693.7L1109.4 694.8M1209.2 652.9L1177.3 680.3M1183.3 675.1L1175.9 670.5M920.4 689.8L881.0 675.3M881.0 675.3L881.9 657.7" fill="none" stroke="#0000c8" stroke-width="2" stroke-linejoin="miter"/>
<circle cx="1425.8" cy="579.1" r="6.5" fill="none" stroke="#0000c8" stroke-width="2"/>
<circle cx="1498.0" cy="579.1" r="6.5" fill="none" stroke="#0000c8" stroke-width="2"/>
<circle cx="1570.2" cy="579.1" r="6.5" fill="none" stroke="#0000c8" stroke-width="2"/>
<circle cx="1425.8" cy="616.0" r="6.5" fill="none" stroke="#0000c8" stroke-width="2"/>
<circle cx="1498.0" cy="616.0" r="6.5" fill="none" stroke="#0000c8" stroke-width="2"/>
<circle cx="1570.2" cy="616.0" r="6.5" fill="none" stroke="#0000c8" stroke-width="2"/>
<circle cx="1281.4" cy="652.9" r="6.5" fill="none" stroke="#0000c8" stroke-width="2"/>
<circle cx="1353.6" cy="652.9" r="6.5" fill="none" stroke="#0000c8" stroke-width="2"/>
<circle cx="1425.8" cy="652.9" r="6.5" fill="none" stroke="#0000c8" stroke-width="2"/>
<circle cx="1498.0" cy="652.9" r="6.5" fill="none" stroke="#0000c8" stroke-width="2"/>
<circle cx="1570.2" cy="652.9" r="6.5" fill="none" stroke="#0000c8" stroke-width="2"/>
<circle cx="1281.4" cy="689.8" r="6.5" fill="none" stroke="#0000c8" stroke-width="2"/>
<circle cx="1353.6" cy="689.8" r="6.5" fill="none" stroke="#0000c8" stroke-width="2"/>
<circle cx="1425.8" cy="689.8" r="6.5" fill="none" stroke="#0000c8" stroke-width="2"/>
<circle cx="1498.0" cy="689.8" r="6.5" fill="none" stroke="#0000c8" stroke-width="2"/>
<circle cx="1570.2" cy="689.8" r="6.5" fill="none" stroke="#0000c8" stroke-width="2"/>
<path d="M1250.3 394.5V689.8" stroke="#f01818" stroke-width="1.4" fill="none"/>
</g>
<rect x="891.5" y="394.5" width="716.0" height="295.29999999999995" fill="none" stroke="#000" stroke-width="1.3"/>
<path d="M884.7 394.50H891.5" stroke="#000" stroke-width="1.3"/>
<text x="879.3" y="403.5" text-anchor="end" font-size="22.4">400</text>
<path d="M884.7 492.93H891.5" stroke="#000" stroke-width="1.3"/>
<text x="879.3" y="501.9" text-anchor="end" font-size="22.4">600</text>
<path d="M884.7 591.37H891.5" stroke="#000" stroke-width="1.3"/>
<text x="879.3" y="600.4" text-anchor="end" font-size="22.4">800</text>
<path d="M884.7 689.80H891.5" stroke="#000" stroke-width="1.3"/>
<text x="879.3" y="698.8" text-anchor="end" font-size="22.4">1000</text>
<path d="M891.50 689.8V696.5999999999999" stroke="#000" stroke-width="1.3"/>
<path d="M992.90 689.8V696.5999999999999" stroke="#000" stroke-width="1.3"/>
<path d="M1101.40 689.8V696.5999999999999" stroke="#000" stroke-width="1.3"/>
<path d="M1209.90 689.8V696.5999999999999" stroke="#000" stroke-width="1.3"/>
<path d="M1318.40 689.8V696.5999999999999" stroke="#000" stroke-width="1.3"/>
<path d="M1426.90 689.8V696.5999999999999" stroke="#000" stroke-width="1.3"/>
<path d="M1535.40 689.8V696.5999999999999" stroke="#000" stroke-width="1.3"/>
<path d="M1607.50 689.8V696.5999999999999" stroke="#000" stroke-width="1.3"/>
<text x="991.7" y="718.1" text-anchor="middle" font-size="20">35.34°N</text>
<text x="991.7" y="743.6" text-anchor="middle" font-size="20">50.66°E</text>
<text x="1100.2" y="718.1" text-anchor="middle" font-size="20">35.51°N</text>
<text x="1100.2" y="743.6" text-anchor="middle" font-size="20">50.91°E</text>
<text x="1208.7" y="718.1" text-anchor="middle" font-size="20">35.69°N</text>
<text x="1208.7" y="743.6" text-anchor="middle" font-size="20">51.15°E</text>
<text x="1317.2" y="718.1" text-anchor="middle" font-size="20">35.86°N</text>
<text x="1317.2" y="743.6" text-anchor="middle" font-size="20">51.40°E</text>
<text x="1425.7" y="718.1" text-anchor="middle" font-size="20">36.04°N</text>
<text x="1425.7" y="743.6" text-anchor="middle" font-size="20">51.65°E</text>
<text x="1534.2" y="718.1" text-anchor="middle" font-size="20">36.21°N</text>
<text x="1534.2" y="743.6" text-anchor="middle" font-size="20">51.90°E</text>
<text x="860.6" y="380.3" font-size="22.3" font-weight="bold">(d)</text>
<rect x="1297.9" y="392.8" width="309.3" height="37.2" rx="5.5" ry="5.5" fill="#fff" stroke="#000" stroke-width="1.4"/>
<text x="1305.6" y="418.8" font-size="23.8" font-weight="bold">23:00 UTC, Angle: 55°</text>
<g clip-path="url(#clipd)"><text transform="translate(1208.8 435.5) rotate(0)" text-anchor="middle" font-size="22.5" style="fill:#000;stroke:#000" dy="8.2">330</text>
<text transform="translate(1217 562) rotate(0)" text-anchor="middle" font-size="22.5" style="fill:#000;stroke:#000" dy="8.2">320</text>
<text transform="translate(1019.2 662.4) rotate(8)" text-anchor="middle" font-size="22.5" style="fill:#000;stroke:#000" dy="8.2">310</text>
<text transform="translate(1484.2 599.6) rotate(17)" text-anchor="middle" font-size="22.5" style="fill:#000;stroke:#000" dy="8.2">310</text>
<text transform="translate(1512.6 678.4) rotate(0)" text-anchor="middle" font-size="22.5" style="fill:#000;stroke:#000" dy="8.2">300</text>
<text transform="translate(1287.5 437.7) rotate(-3)" text-anchor="middle" font-size="22.5" style="fill:#1f7a1f;stroke:#1f7a1f" dy="8.2">340</text>
<text transform="translate(1020.5 613) rotate(-25)" text-anchor="middle" font-size="22.5" style="fill:#1f7a1f;stroke:#1f7a1f" dy="8.2">350</text>
<text transform="translate(998.3 656.3) rotate(-45)" text-anchor="middle" font-size="22.5" style="fill:#1f7a1f;stroke:#1f7a1f" dy="8.2">360</text>
<text transform="translate(1382 614.4) rotate(-15)" text-anchor="middle" font-size="22.5" style="fill:#1f7a1f;stroke:#1f7a1f" dy="8.2">340</text>
<text transform="translate(1446 578) rotate(-55)" text-anchor="middle" font-size="22.5" style="fill:#1f7a1f;stroke:#1f7a1f" dy="8.2">350</text></g>
</g>
<rect x="388.90" y="762.3" width="13.34" height="16.1" fill="#0808ff"/>
<rect x="401.74" y="762.3" width="13.34" height="16.1" fill="#1a1aff"/>
<rect x="414.59" y="762.3" width="13.34" height="16.1" fill="#2a2aff"/>
<rect x="427.43" y="762.3" width="13.34" height="16.1" fill="#3c3cff"/>
<rect x="440.28" y="762.3" width="13.34" height="16.1" fill="#4c4cff"/>
<rect x="453.12" y="762.3" width="13.34" height="16.1" fill="#5e5eff"/>
<rect x="465.97" y="762.3" width="13.34" height="16.1" fill="#6f6fff"/>
<rect x="478.81" y="762.3" width="13.34" height="16.1" fill="#8080ff"/>
<rect x="491.66" y="762.3" width="13.34" height="16.1" fill="#9090ff"/>
<rect x="504.50" y="762.3" width="13.34" height="16.1" fill="#a2a2ff"/>
<rect x="517.35" y="762.3" width="13.34" height="16.1" fill="#b2b2ff"/>
<rect x="530.19" y="762.3" width="13.34" height="16.1" fill="#c4c4ff"/>
<rect x="543.04" y="762.3" width="13.34" height="16.1" fill="#d5d5ff"/>
<rect x="555.88" y="762.3" width="13.34" height="16.1" fill="#e6e6ff"/>
<rect x="568.72" y="762.3" width="13.34" height="16.1" fill="#f7f7ff"/>
<rect x="581.57" y="762.3" width="13.34" height="16.1" fill="#fffcfc"/>
<rect x="594.41" y="762.3" width="13.34" height="16.1" fill="#fff7f7"/>
<rect x="607.26" y="762.3" width="13.34" height="16.1" fill="#fff2f2"/>
<rect x="620.10" y="762.3" width="13.34" height="16.1" fill="#ffeded"/>
<rect x="632.95" y="762.3" width="13.34" height="16.1" fill="#ffe8e8"/>
<rect x="645.79" y="762.3" width="13.34" height="16.1" fill="#ffe3e3"/>
<rect x="658.64" y="762.3" width="13.34" height="16.1" fill="#ffdede"/>
<rect x="671.48" y="762.3" width="13.34" height="16.1" fill="#ffd9d9"/>
<rect x="684.33" y="762.3" width="13.34" height="16.1" fill="#ffd4d4"/>
<rect x="697.17" y="762.3" width="13.34" height="16.1" fill="#ffcfcf"/>
<rect x="710.02" y="762.3" width="13.34" height="16.1" fill="#ffc9c9"/>
<rect x="722.86" y="762.3" width="13.34" height="16.1" fill="#ffc4c4"/>
<rect x="735.70" y="762.3" width="13.34" height="16.1" fill="#ffbfbf"/>
<rect x="748.55" y="762.3" width="13.34" height="16.1" fill="#ffbaba"/>
<rect x="761.39" y="762.3" width="13.34" height="16.1" fill="#ffb5b5"/>
<rect x="774.24" y="762.3" width="13.34" height="16.1" fill="#ffb0b0"/>
<rect x="787.08" y="762.3" width="13.34" height="16.1" fill="#ffabab"/>
<rect x="799.93" y="762.3" width="13.34" height="16.1" fill="#ffa6a6"/>
<rect x="812.77" y="762.3" width="13.34" height="16.1" fill="#ffa1a1"/>
<rect x="825.62" y="762.3" width="13.34" height="16.1" fill="#ff9c9c"/>
<rect x="838.46" y="762.3" width="13.34" height="16.1" fill="#ff9696"/>
<rect x="851.31" y="762.3" width="13.34" height="16.1" fill="#ff9191"/>
<rect x="864.15" y="762.3" width="13.34" height="16.1" fill="#ff8c8c"/>
<rect x="877.00" y="762.3" width="13.34" height="16.1" fill="#ff8787"/>
<rect x="889.84" y="762.3" width="13.34" height="16.1" fill="#ff8282"/>
<rect x="902.68" y="762.3" width="13.34" height="16.1" fill="#ff7d7d"/>
<rect x="915.53" y="762.3" width="13.34" height="16.1" fill="#ff7878"/>
<rect x="928.37" y="762.3" width="13.34" height="16.1" fill="#ff7373"/>
<rect x="941.22" y="762.3" width="13.34" height="16.1" fill="#ff6e6e"/>
<rect x="954.06" y="762.3" width="13.34" height="16.1" fill="#ff6969"/>
<rect x="966.91" y="762.3" width="13.34" height="16.1" fill="#ff6363"/>
<rect x="979.75" y="762.3" width="13.34" height="16.1" fill="#ff5e5e"/>
<rect x="992.60" y="762.3" width="13.34" height="16.1" fill="#ff5959"/>
<rect x="1005.44" y="762.3" width="13.34" height="16.1" fill="#ff5454"/>
<rect x="1018.29" y="762.3" width="13.34" height="16.1" fill="#ff4f4f"/>
<rect x="1031.13" y="762.3" width="13.34" height="16.1" fill="#ff4a4a"/>
<rect x="1043.98" y="762.3" width="13.34" height="16.1" fill="#ff4545"/>
<rect x="1056.82" y="762.3" width="13.34" height="16.1" fill="#ff4040"/>
<rect x="1069.66" y="762.3" width="13.34" height="16.1" fill="#ff3b3b"/>
<rect x="1082.51" y="762.3" width="13.34" height="16.1" fill="#ff3636"/>
<rect x="1095.35" y="762.3" width="13.34" height="16.1" fill="#ff3030"/>
<rect x="1108.20" y="762.3" width="13.34" height="16.1" fill="#ff2b2b"/>
<rect x="1121.04" y="762.3" width="13.34" height="16.1" fill="#ff2626"/>
<rect x="1133.89" y="762.3" width="13.34" height="16.1" fill="#ff2121"/>
<rect x="1146.73" y="762.3" width="13.34" height="16.1" fill="#ff1c1c"/>
<rect x="1159.58" y="762.3" width="13.34" height="16.1" fill="#ff1717"/>
<rect x="1172.42" y="762.3" width="13.34" height="16.1" fill="#ff1212"/>
<rect x="1185.27" y="762.3" width="13.34" height="16.1" fill="#ff0d0d"/>
<rect x="1198.11" y="762.3" width="13.34" height="16.1" fill="#ff0808"/>
<rect x="1210.96" y="762.3" width="13.34" height="16.1" fill="#ff0303"/>
<rect x="388.9" y="762.3" width="834.9" height="16.1" fill="none" stroke="#000" stroke-width="1.3"/>
<path d="M401.74 778.4V784.0" stroke="#000" stroke-width="1.3"/>
<text x="400.5" y="808" text-anchor="middle" font-size="22.4">−2.8</text>
<path d="M491.66 778.4V784.0" stroke="#000" stroke-width="1.3"/>
<text x="490.5" y="808" text-anchor="middle" font-size="22.4">−1.4</text>
<path d="M581.57 778.4V784.0" stroke="#000" stroke-width="1.3"/>
<text x="580.4" y="808" text-anchor="middle" font-size="22.4">0.0</text>
<path d="M671.48 778.4V784.0" stroke="#000" stroke-width="1.3"/>
<text x="670.3" y="808" text-anchor="middle" font-size="22.4">1.4</text>
<path d="M761.39 778.4V784.0" stroke="#000" stroke-width="1.3"/>
<text x="760.2" y="808" text-anchor="middle" font-size="22.4">2.8</text>
<path d="M851.31 778.4V784.0" stroke="#000" stroke-width="1.3"/>
<text x="850.1" y="808" text-anchor="middle" font-size="22.4">4.2</text>
<path d="M941.22 778.4V784.0" stroke="#000" stroke-width="1.3"/>
<text x="940.0" y="808" text-anchor="middle" font-size="22.4">5.6</text>
<path d="M1031.13 778.4V784.0" stroke="#000" stroke-width="1.3"/>
<text x="1029.9" y="808" text-anchor="middle" font-size="22.4">7.0</text>
<path d="M1121.04 778.4V784.0" stroke="#000" stroke-width="1.3"/>
<text x="1119.8" y="808" text-anchor="middle" font-size="22.4">8.4</text>
<path d="M1210.96 778.4V784.0" stroke="#000" stroke-width="1.3"/>
<text x="1209.8" y="808" text-anchor="middle" font-size="22.4">9.8</text>
<text x="1227.5" y="781" font-size="23.5">PV (×10<tspan dy="-9" font-size="16.4">−6</tspan><tspan dy="9"> PVU)</tspan></text>
</svg></body></html>
